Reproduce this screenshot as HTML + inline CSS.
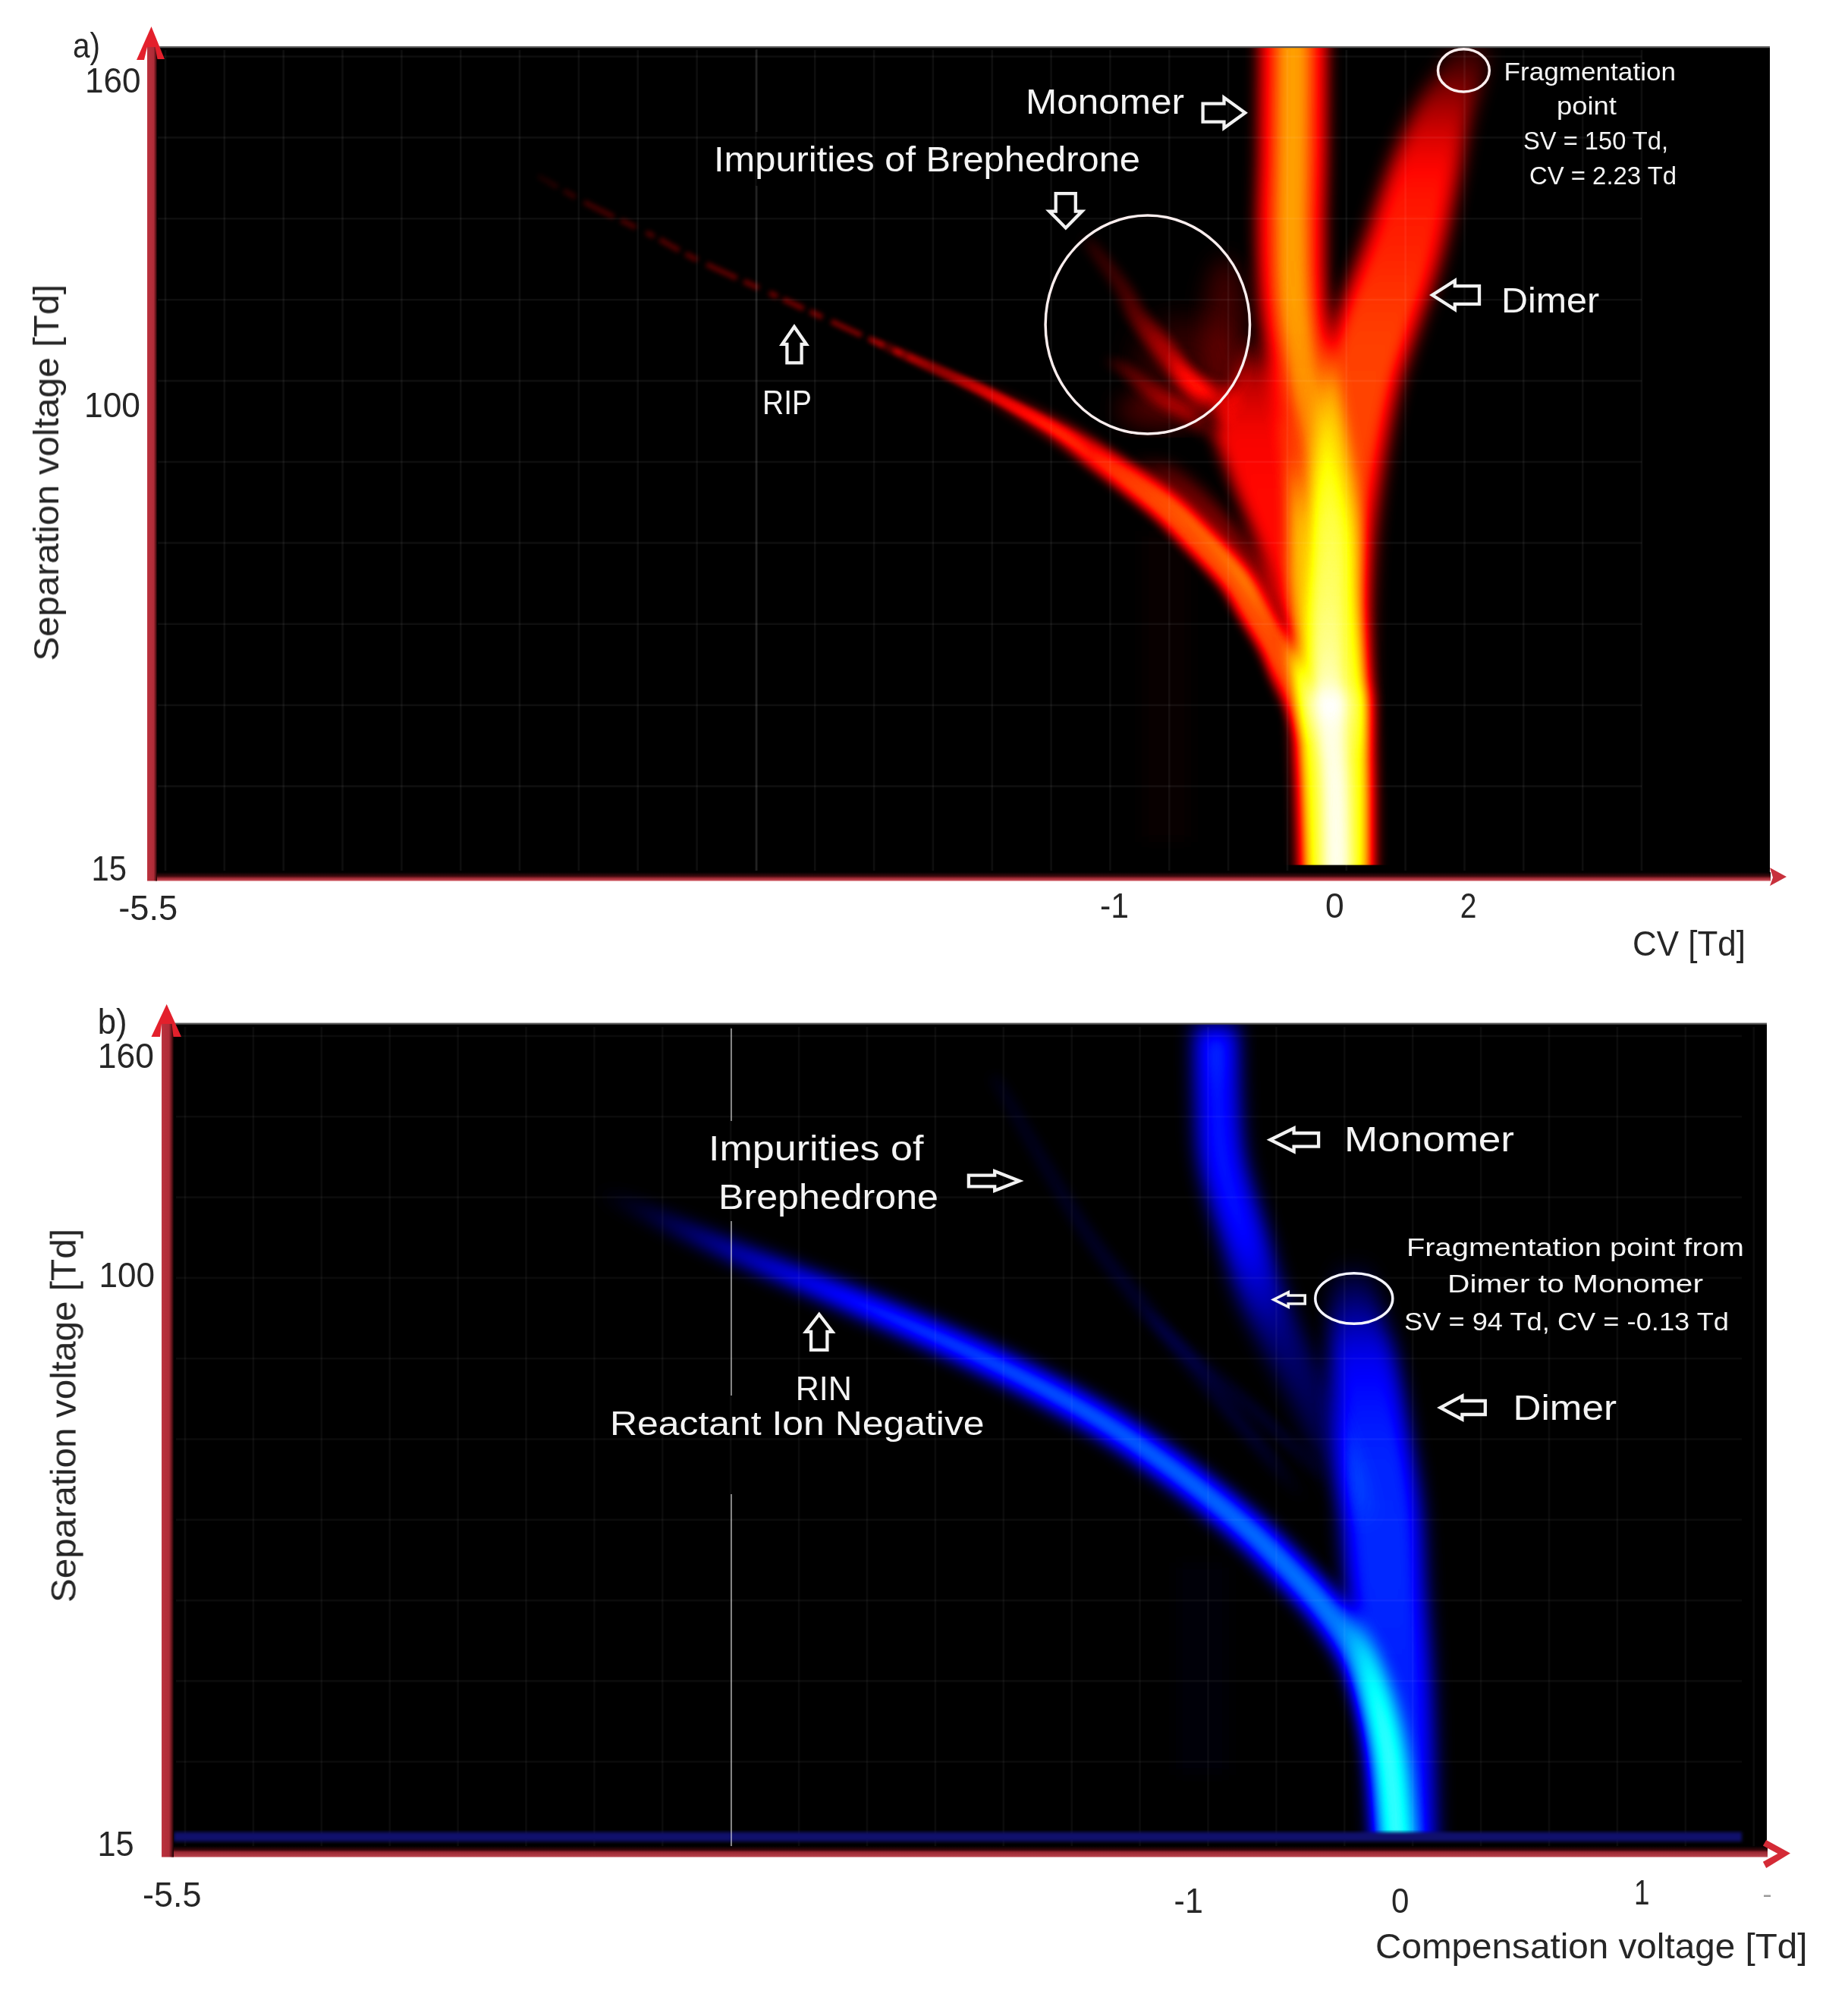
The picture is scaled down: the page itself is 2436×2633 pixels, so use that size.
<!DOCTYPE html>
<html><head><meta charset="utf-8"><title>DMS dispersion plots</title><style>html,body{margin:0;padding:0;background:#fff}svg{display:block}</style></head><body>
<svg width="2436" height="2633" viewBox="0 0 2436 2633" font-family="Liberation Sans, sans-serif">
<defs>
<linearGradient id="lg1" gradientUnits="userSpaceOnUse" x1="0" y1="50.0" x2="0" y2="1000.0"><stop offset="0.0000" stop-color="#fff" stop-opacity="0.030"/><stop offset="0.0083" stop-color="#fff" stop-opacity="0.047"/><stop offset="0.0201" stop-color="#fff" stop-opacity="0.072"/><stop offset="0.0337" stop-color="#fff" stop-opacity="0.101"/><stop offset="0.0474" stop-color="#fff" stop-opacity="0.130"/><stop offset="0.0605" stop-color="#fff" stop-opacity="0.161"/><stop offset="0.0741" stop-color="#fff" stop-opacity="0.194"/><stop offset="0.0888" stop-color="#fff" stop-opacity="0.227"/><stop offset="0.1053" stop-color="#fff" stop-opacity="0.260"/><stop offset="0.1237" stop-color="#fff" stop-opacity="0.293"/><stop offset="0.1438" stop-color="#fff" stop-opacity="0.326"/><stop offset="0.1654" stop-color="#fff" stop-opacity="0.356"/><stop offset="0.1884" stop-color="#fff" stop-opacity="0.380"/><stop offset="0.2134" stop-color="#fff" stop-opacity="0.396"/><stop offset="0.2402" stop-color="#fff" stop-opacity="0.405"/><stop offset="0.2677" stop-color="#fff" stop-opacity="0.412"/><stop offset="0.2947" stop-color="#fff" stop-opacity="0.420"/><stop offset="0.3219" stop-color="#fff" stop-opacity="0.431"/><stop offset="0.3494" stop-color="#fff" stop-opacity="0.442"/><stop offset="0.3759" stop-color="#fff" stop-opacity="0.452"/><stop offset="0.4000" stop-color="#fff" stop-opacity="0.460"/><stop offset="0.4199" stop-color="#fff" stop-opacity="0.465"/><stop offset="0.4368" stop-color="#fff" stop-opacity="0.467"/><stop offset="0.4538" stop-color="#fff" stop-opacity="0.469"/><stop offset="0.4737" stop-color="#fff" stop-opacity="0.470"/><stop offset="0.4978" stop-color="#fff" stop-opacity="0.471"/><stop offset="0.5243" stop-color="#fff" stop-opacity="0.472"/><stop offset="0.5519" stop-color="#fff" stop-opacity="0.472"/><stop offset="0.5789" stop-color="#fff" stop-opacity="0.470"/><stop offset="0.6053" stop-color="#fff" stop-opacity="0.468"/><stop offset="0.6316" stop-color="#fff" stop-opacity="0.464"/><stop offset="0.6579" stop-color="#fff" stop-opacity="0.459"/><stop offset="0.6842" stop-color="#fff" stop-opacity="0.450"/><stop offset="0.7098" stop-color="#fff" stop-opacity="0.437"/><stop offset="0.7349" stop-color="#fff" stop-opacity="0.422"/><stop offset="0.7609" stop-color="#fff" stop-opacity="0.403"/><stop offset="0.7895" stop-color="#fff" stop-opacity="0.380"/><stop offset="0.8229" stop-color="#fff" stop-opacity="0.355"/><stop offset="0.8599" stop-color="#fff" stop-opacity="0.326"/><stop offset="0.8958" stop-color="#fff" stop-opacity="0.292"/><stop offset="0.9263" stop-color="#fff" stop-opacity="0.250"/><stop offset="0.9509" stop-color="#fff" stop-opacity="0.190"/><stop offset="0.9717" stop-color="#fff" stop-opacity="0.117"/><stop offset="0.9882" stop-color="#fff" stop-opacity="0.048"/><stop offset="1.0000" stop-color="#fff" stop-opacity="0.000"/><stop offset="1.0000" stop-color="#fff" stop-opacity="0.000"/></linearGradient>
<linearGradient id="lg2" gradientUnits="userSpaceOnUse" x1="0" y1="40.0" x2="0" y2="1160.0"><stop offset="0.0000" stop-color="#fff" stop-opacity="0.430"/><stop offset="0.0269" stop-color="#fff" stop-opacity="0.430"/><stop offset="0.0658" stop-color="#fff" stop-opacity="0.430"/><stop offset="0.1076" stop-color="#fff" stop-opacity="0.430"/><stop offset="0.1429" stop-color="#fff" stop-opacity="0.430"/><stop offset="0.1689" stop-color="#fff" stop-opacity="0.430"/><stop offset="0.1908" stop-color="#fff" stop-opacity="0.430"/><stop offset="0.2111" stop-color="#fff" stop-opacity="0.430"/><stop offset="0.2321" stop-color="#fff" stop-opacity="0.430"/><stop offset="0.2545" stop-color="#fff" stop-opacity="0.430"/><stop offset="0.2768" stop-color="#fff" stop-opacity="0.430"/><stop offset="0.2991" stop-color="#fff" stop-opacity="0.430"/><stop offset="0.3214" stop-color="#fff" stop-opacity="0.430"/><stop offset="0.3438" stop-color="#fff" stop-opacity="0.430"/><stop offset="0.3661" stop-color="#fff" stop-opacity="0.429"/><stop offset="0.3884" stop-color="#fff" stop-opacity="0.429"/><stop offset="0.4107" stop-color="#fff" stop-opacity="0.430"/><stop offset="0.4330" stop-color="#fff" stop-opacity="0.430"/><stop offset="0.4554" stop-color="#fff" stop-opacity="0.430"/><stop offset="0.4777" stop-color="#fff" stop-opacity="0.432"/><stop offset="0.5000" stop-color="#fff" stop-opacity="0.440"/><stop offset="0.5223" stop-color="#fff" stop-opacity="0.455"/><stop offset="0.5446" stop-color="#fff" stop-opacity="0.474"/><stop offset="0.5670" stop-color="#fff" stop-opacity="0.497"/><stop offset="0.5893" stop-color="#fff" stop-opacity="0.520"/><stop offset="0.6116" stop-color="#fff" stop-opacity="0.544"/><stop offset="0.6339" stop-color="#fff" stop-opacity="0.569"/><stop offset="0.6562" stop-color="#fff" stop-opacity="0.595"/><stop offset="0.6786" stop-color="#fff" stop-opacity="0.620"/><stop offset="0.7024" stop-color="#fff" stop-opacity="0.646"/><stop offset="0.7271" stop-color="#fff" stop-opacity="0.672"/><stop offset="0.7499" stop-color="#fff" stop-opacity="0.698"/><stop offset="0.7679" stop-color="#fff" stop-opacity="0.720"/><stop offset="0.7773" stop-color="#fff" stop-opacity="0.739"/><stop offset="0.7807" stop-color="#fff" stop-opacity="0.756"/><stop offset="0.7844" stop-color="#fff" stop-opacity="0.770"/><stop offset="0.7946" stop-color="#fff" stop-opacity="0.780"/><stop offset="0.8140" stop-color="#fff" stop-opacity="0.784"/><stop offset="0.8387" stop-color="#fff" stop-opacity="0.784"/><stop offset="0.8660" stop-color="#fff" stop-opacity="0.781"/><stop offset="0.8929" stop-color="#fff" stop-opacity="0.780"/><stop offset="0.9215" stop-color="#fff" stop-opacity="0.780"/><stop offset="0.9526" stop-color="#fff" stop-opacity="0.780"/><stop offset="0.9805" stop-color="#fff" stop-opacity="0.780"/><stop offset="1.0000" stop-color="#fff" stop-opacity="0.780"/><stop offset="1.0000" stop-color="#fff" stop-opacity="0.780"/></linearGradient>
<linearGradient id="lg3" gradientUnits="userSpaceOnUse" x1="0" y1="40.0" x2="0" y2="1160.0"><stop offset="0.0000" stop-color="#fff" stop-opacity="0.310"/><stop offset="0.0269" stop-color="#fff" stop-opacity="0.310"/><stop offset="0.0658" stop-color="#fff" stop-opacity="0.310"/><stop offset="0.1076" stop-color="#fff" stop-opacity="0.310"/><stop offset="0.1429" stop-color="#fff" stop-opacity="0.310"/><stop offset="0.1689" stop-color="#fff" stop-opacity="0.310"/><stop offset="0.1908" stop-color="#fff" stop-opacity="0.310"/><stop offset="0.2111" stop-color="#fff" stop-opacity="0.310"/><stop offset="0.2321" stop-color="#fff" stop-opacity="0.310"/><stop offset="0.2545" stop-color="#fff" stop-opacity="0.311"/><stop offset="0.2768" stop-color="#fff" stop-opacity="0.312"/><stop offset="0.2991" stop-color="#fff" stop-opacity="0.312"/><stop offset="0.3214" stop-color="#fff" stop-opacity="0.310"/><stop offset="0.3438" stop-color="#fff" stop-opacity="0.305"/><stop offset="0.3661" stop-color="#fff" stop-opacity="0.297"/><stop offset="0.3884" stop-color="#fff" stop-opacity="0.289"/><stop offset="0.4107" stop-color="#fff" stop-opacity="0.280"/><stop offset="0.4330" stop-color="#fff" stop-opacity="0.267"/><stop offset="0.4554" stop-color="#fff" stop-opacity="0.252"/><stop offset="0.4777" stop-color="#fff" stop-opacity="0.240"/><stop offset="0.5000" stop-color="#fff" stop-opacity="0.240"/><stop offset="0.5223" stop-color="#fff" stop-opacity="0.256"/><stop offset="0.5446" stop-color="#fff" stop-opacity="0.283"/><stop offset="0.5670" stop-color="#fff" stop-opacity="0.313"/><stop offset="0.5893" stop-color="#fff" stop-opacity="0.340"/><stop offset="0.6118" stop-color="#fff" stop-opacity="0.359"/><stop offset="0.6345" stop-color="#fff" stop-opacity="0.374"/><stop offset="0.6569" stop-color="#fff" stop-opacity="0.392"/><stop offset="0.6786" stop-color="#fff" stop-opacity="0.420"/><stop offset="0.7004" stop-color="#fff" stop-opacity="0.458"/><stop offset="0.7223" stop-color="#fff" stop-opacity="0.502"/><stop offset="0.7424" stop-color="#fff" stop-opacity="0.555"/><stop offset="0.7589" stop-color="#fff" stop-opacity="0.620"/><stop offset="0.7703" stop-color="#fff" stop-opacity="0.712"/><stop offset="0.7778" stop-color="#fff" stop-opacity="0.826"/><stop offset="0.7839" stop-color="#fff" stop-opacity="0.929"/><stop offset="0.7911" stop-color="#fff" stop-opacity="0.990"/><stop offset="0.7990" stop-color="#fff" stop-opacity="0.989"/><stop offset="0.8068" stop-color="#fff" stop-opacity="0.946"/><stop offset="0.8156" stop-color="#fff" stop-opacity="0.892"/><stop offset="0.8268" stop-color="#fff" stop-opacity="0.860"/><stop offset="0.8402" stop-color="#fff" stop-opacity="0.859"/><stop offset="0.8554" stop-color="#fff" stop-opacity="0.871"/><stop offset="0.8727" stop-color="#fff" stop-opacity="0.887"/><stop offset="0.8929" stop-color="#fff" stop-opacity="0.900"/><stop offset="0.9193" stop-color="#fff" stop-opacity="0.907"/><stop offset="0.9506" stop-color="#fff" stop-opacity="0.912"/><stop offset="0.9798" stop-color="#fff" stop-opacity="0.917"/><stop offset="1.0000" stop-color="#fff" stop-opacity="0.920"/><stop offset="1.0000" stop-color="#fff" stop-opacity="0.920"/></linearGradient>
<linearGradient id="ripg" gradientUnits="userSpaceOnUse" x1="709" y1="0" x2="1230" y2="0"><stop offset="0" stop-color="#fff" stop-opacity="0.03"/><stop offset="0.13" stop-color="#fff" stop-opacity="0.10"/><stop offset="0.4" stop-color="#fff" stop-opacity="0.13"/><stop offset="0.7" stop-color="#fff" stop-opacity="0.18"/><stop offset="0.88" stop-color="#fff" stop-opacity="0.2"/><stop offset="1" stop-color="#fff" stop-opacity="0"/></linearGradient>
<linearGradient id="lg4" gradientUnits="userSpaceOnUse" x1="1140.0" y1="0" x2="1440.0" y2="0"><stop offset="0.0000" stop-color="#fff" stop-opacity="0.000"/><stop offset="0.0292" stop-color="#fff" stop-opacity="0.033"/><stop offset="0.0708" stop-color="#fff" stop-opacity="0.082"/><stop offset="0.1187" stop-color="#fff" stop-opacity="0.132"/><stop offset="0.1667" stop-color="#fff" stop-opacity="0.170"/><stop offset="0.2146" stop-color="#fff" stop-opacity="0.191"/><stop offset="0.2654" stop-color="#fff" stop-opacity="0.203"/><stop offset="0.3168" stop-color="#fff" stop-opacity="0.210"/><stop offset="0.3667" stop-color="#fff" stop-opacity="0.220"/><stop offset="0.4118" stop-color="#fff" stop-opacity="0.236"/><stop offset="0.4544" stop-color="#fff" stop-opacity="0.254"/><stop offset="0.4997" stop-color="#fff" stop-opacity="0.267"/><stop offset="0.5533" stop-color="#fff" stop-opacity="0.270"/><stop offset="0.6217" stop-color="#fff" stop-opacity="0.259"/><stop offset="0.7002" stop-color="#fff" stop-opacity="0.239"/><stop offset="0.7778" stop-color="#fff" stop-opacity="0.212"/><stop offset="0.8433" stop-color="#fff" stop-opacity="0.180"/><stop offset="0.8955" stop-color="#fff" stop-opacity="0.137"/><stop offset="0.9398" stop-color="#fff" stop-opacity="0.084"/><stop offset="0.9750" stop-color="#fff" stop-opacity="0.034"/><stop offset="1.0000" stop-color="#fff" stop-opacity="0.000"/><stop offset="1.0000" stop-color="#fff" stop-opacity="0.000"/></linearGradient>
<linearGradient id="lg5" gradientUnits="userSpaceOnUse" x1="0" y1="494.0" x2="0" y2="981.0"><stop offset="0.0000" stop-color="#fff" stop-opacity="0.000"/><stop offset="0.0086" stop-color="#fff" stop-opacity="0.016"/><stop offset="0.0207" stop-color="#fff" stop-opacity="0.038"/><stop offset="0.0358" stop-color="#fff" stop-opacity="0.066"/><stop offset="0.0534" stop-color="#fff" stop-opacity="0.100"/><stop offset="0.0749" stop-color="#fff" stop-opacity="0.145"/><stop offset="0.1001" stop-color="#fff" stop-opacity="0.199"/><stop offset="0.1261" stop-color="#fff" stop-opacity="0.253"/><stop offset="0.1499" stop-color="#fff" stop-opacity="0.300"/><stop offset="0.1710" stop-color="#fff" stop-opacity="0.337"/><stop offset="0.1910" stop-color="#fff" stop-opacity="0.370"/><stop offset="0.2099" stop-color="#fff" stop-opacity="0.397"/><stop offset="0.2279" stop-color="#fff" stop-opacity="0.420"/><stop offset="0.2447" stop-color="#fff" stop-opacity="0.436"/><stop offset="0.2603" stop-color="#fff" stop-opacity="0.446"/><stop offset="0.2756" stop-color="#fff" stop-opacity="0.453"/><stop offset="0.2916" stop-color="#fff" stop-opacity="0.460"/><stop offset="0.3081" stop-color="#fff" stop-opacity="0.467"/><stop offset="0.3248" stop-color="#fff" stop-opacity="0.472"/><stop offset="0.3424" stop-color="#fff" stop-opacity="0.477"/><stop offset="0.3614" stop-color="#fff" stop-opacity="0.480"/><stop offset="0.3823" stop-color="#fff" stop-opacity="0.481"/><stop offset="0.4048" stop-color="#fff" stop-opacity="0.481"/><stop offset="0.4281" stop-color="#fff" stop-opacity="0.480"/><stop offset="0.4517" stop-color="#fff" stop-opacity="0.480"/><stop offset="0.4760" stop-color="#fff" stop-opacity="0.480"/><stop offset="0.5010" stop-color="#fff" stop-opacity="0.480"/><stop offset="0.5261" stop-color="#fff" stop-opacity="0.480"/><stop offset="0.5503" stop-color="#fff" stop-opacity="0.480"/><stop offset="0.5735" stop-color="#fff" stop-opacity="0.480"/><stop offset="0.5961" stop-color="#fff" stop-opacity="0.480"/><stop offset="0.6184" stop-color="#fff" stop-opacity="0.480"/><stop offset="0.6407" stop-color="#fff" stop-opacity="0.480"/><stop offset="0.6631" stop-color="#fff" stop-opacity="0.480"/><stop offset="0.6854" stop-color="#fff" stop-opacity="0.481"/><stop offset="0.7075" stop-color="#fff" stop-opacity="0.481"/><stop offset="0.7290" stop-color="#fff" stop-opacity="0.480"/><stop offset="0.7493" stop-color="#fff" stop-opacity="0.480"/><stop offset="0.7689" stop-color="#fff" stop-opacity="0.480"/><stop offset="0.7885" stop-color="#fff" stop-opacity="0.475"/><stop offset="0.8090" stop-color="#fff" stop-opacity="0.460"/><stop offset="0.8307" stop-color="#fff" stop-opacity="0.433"/><stop offset="0.8529" stop-color="#fff" stop-opacity="0.397"/><stop offset="0.8758" stop-color="#fff" stop-opacity="0.353"/><stop offset="0.8994" stop-color="#fff" stop-opacity="0.300"/><stop offset="0.9262" stop-color="#fff" stop-opacity="0.228"/><stop offset="0.9553" stop-color="#fff" stop-opacity="0.140"/><stop offset="0.9817" stop-color="#fff" stop-opacity="0.057"/><stop offset="1.0000" stop-color="#fff" stop-opacity="0.000"/><stop offset="1.0000" stop-color="#fff" stop-opacity="0.000"/></linearGradient>
<linearGradient id="lg6" gradientUnits="userSpaceOnUse" x1="0" y1="606.0" x2="0" y2="834.0"><stop offset="0.0000" stop-color="#fff" stop-opacity="0.000"/><stop offset="0.0085" stop-color="#fff" stop-opacity="0.023"/><stop offset="0.0200" stop-color="#fff" stop-opacity="0.057"/><stop offset="0.0379" stop-color="#fff" stop-opacity="0.092"/><stop offset="0.0658" stop-color="#fff" stop-opacity="0.120"/><stop offset="0.1061" stop-color="#fff" stop-opacity="0.138"/><stop offset="0.1565" stop-color="#fff" stop-opacity="0.151"/><stop offset="0.2131" stop-color="#fff" stop-opacity="0.161"/><stop offset="0.2719" stop-color="#fff" stop-opacity="0.170"/><stop offset="0.3337" stop-color="#fff" stop-opacity="0.179"/><stop offset="0.3999" stop-color="#fff" stop-opacity="0.187"/><stop offset="0.4680" stop-color="#fff" stop-opacity="0.194"/><stop offset="0.5351" stop-color="#fff" stop-opacity="0.200"/><stop offset="0.6023" stop-color="#fff" stop-opacity="0.211"/><stop offset="0.6705" stop-color="#fff" stop-opacity="0.226"/><stop offset="0.7368" stop-color="#fff" stop-opacity="0.232"/><stop offset="0.7982" stop-color="#fff" stop-opacity="0.220"/><stop offset="0.8577" stop-color="#fff" stop-opacity="0.177"/><stop offset="0.9156" stop-color="#fff" stop-opacity="0.111"/><stop offset="0.9652" stop-color="#fff" stop-opacity="0.045"/><stop offset="1.0000" stop-color="#fff" stop-opacity="0.000"/><stop offset="1.0000" stop-color="#fff" stop-opacity="0.000"/></linearGradient>
<linearGradient id="lg7" gradientUnits="userSpaceOnUse" x1="0" y1="440.0" x2="0" y2="850.0"><stop offset="0.0000" stop-color="#fff" stop-opacity="0.000"/><stop offset="0.0131" stop-color="#fff" stop-opacity="0.021"/><stop offset="0.0320" stop-color="#fff" stop-opacity="0.051"/><stop offset="0.0532" stop-color="#fff" stop-opacity="0.086"/><stop offset="0.0732" stop-color="#fff" stop-opacity="0.120"/><stop offset="0.0897" stop-color="#fff" stop-opacity="0.155"/><stop offset="0.1052" stop-color="#fff" stop-opacity="0.192"/><stop offset="0.1229" stop-color="#fff" stop-opacity="0.228"/><stop offset="0.1463" stop-color="#fff" stop-opacity="0.260"/><stop offset="0.1787" stop-color="#fff" stop-opacity="0.288"/><stop offset="0.2174" stop-color="#fff" stop-opacity="0.312"/><stop offset="0.2571" stop-color="#fff" stop-opacity="0.334"/><stop offset="0.2927" stop-color="#fff" stop-opacity="0.350"/><stop offset="0.3197" stop-color="#fff" stop-opacity="0.360"/><stop offset="0.3421" stop-color="#fff" stop-opacity="0.365"/><stop offset="0.3665" stop-color="#fff" stop-opacity="0.367"/><stop offset="0.4000" stop-color="#fff" stop-opacity="0.370"/><stop offset="0.4461" stop-color="#fff" stop-opacity="0.374"/><stop offset="0.5006" stop-color="#fff" stop-opacity="0.379"/><stop offset="0.5585" stop-color="#fff" stop-opacity="0.381"/><stop offset="0.6146" stop-color="#fff" stop-opacity="0.380"/><stop offset="0.6693" stop-color="#fff" stop-opacity="0.381"/><stop offset="0.7247" stop-color="#fff" stop-opacity="0.382"/><stop offset="0.7787" stop-color="#fff" stop-opacity="0.372"/><stop offset="0.8293" stop-color="#fff" stop-opacity="0.340"/><stop offset="0.8790" stop-color="#fff" stop-opacity="0.268"/><stop offset="0.9280" stop-color="#fff" stop-opacity="0.168"/><stop offset="0.9704" stop-color="#fff" stop-opacity="0.068"/><stop offset="1.0000" stop-color="#fff" stop-opacity="0.000"/><stop offset="1.0000" stop-color="#fff" stop-opacity="0.000"/></linearGradient>
<linearGradient id="lg8" gradientUnits="userSpaceOnUse" x1="0" y1="310.0" x2="0" y2="560.0"><stop offset="0.0000" stop-color="#fff" stop-opacity="0.000"/><stop offset="0.0106" stop-color="#fff" stop-opacity="0.014"/><stop offset="0.0250" stop-color="#fff" stop-opacity="0.033"/><stop offset="0.0459" stop-color="#fff" stop-opacity="0.054"/><stop offset="0.0760" stop-color="#fff" stop-opacity="0.070"/><stop offset="0.1203" stop-color="#fff" stop-opacity="0.080"/><stop offset="0.1760" stop-color="#fff" stop-opacity="0.087"/><stop offset="0.2337" stop-color="#fff" stop-opacity="0.093"/><stop offset="0.2840" stop-color="#fff" stop-opacity="0.100"/><stop offset="0.3230" stop-color="#fff" stop-opacity="0.109"/><stop offset="0.3563" stop-color="#fff" stop-opacity="0.118"/><stop offset="0.3883" stop-color="#fff" stop-opacity="0.128"/><stop offset="0.4240" stop-color="#fff" stop-opacity="0.140"/><stop offset="0.4655" stop-color="#fff" stop-opacity="0.155"/><stop offset="0.5100" stop-color="#fff" stop-opacity="0.172"/><stop offset="0.5545" stop-color="#fff" stop-opacity="0.188"/><stop offset="0.5960" stop-color="#fff" stop-opacity="0.200"/><stop offset="0.6333" stop-color="#fff" stop-opacity="0.206"/><stop offset="0.6683" stop-color="#fff" stop-opacity="0.209"/><stop offset="0.7020" stop-color="#fff" stop-opacity="0.210"/><stop offset="0.7360" stop-color="#fff" stop-opacity="0.210"/><stop offset="0.7705" stop-color="#fff" stop-opacity="0.213"/><stop offset="0.8047" stop-color="#fff" stop-opacity="0.218"/><stop offset="0.8387" stop-color="#fff" stop-opacity="0.216"/><stop offset="0.8720" stop-color="#fff" stop-opacity="0.200"/><stop offset="0.9076" stop-color="#fff" stop-opacity="0.159"/><stop offset="0.9445" stop-color="#fff" stop-opacity="0.099"/><stop offset="0.9772" stop-color="#fff" stop-opacity="0.040"/><stop offset="1.0000" stop-color="#fff" stop-opacity="0.000"/><stop offset="1.0000" stop-color="#fff" stop-opacity="0.000"/></linearGradient>
<linearGradient id="lg9" gradientUnits="userSpaceOnUse" x1="0" y1="470.0" x2="0" y2="590.0"><stop offset="0.0000" stop-color="#fff" stop-opacity="0.000"/><stop offset="0.0186" stop-color="#fff" stop-opacity="0.022"/><stop offset="0.0443" stop-color="#fff" stop-opacity="0.053"/><stop offset="0.0791" stop-color="#fff" stop-opacity="0.086"/><stop offset="0.1250" stop-color="#fff" stop-opacity="0.110"/><stop offset="0.1876" stop-color="#fff" stop-opacity="0.124"/><stop offset="0.2641" stop-color="#fff" stop-opacity="0.132"/><stop offset="0.3439" stop-color="#fff" stop-opacity="0.136"/><stop offset="0.4167" stop-color="#fff" stop-opacity="0.140"/><stop offset="0.4764" stop-color="#fff" stop-opacity="0.145"/><stop offset="0.5297" stop-color="#fff" stop-opacity="0.151"/><stop offset="0.5848" stop-color="#fff" stop-opacity="0.151"/><stop offset="0.6500" stop-color="#fff" stop-opacity="0.140"/><stop offset="0.7375" stop-color="#fff" stop-opacity="0.112"/><stop offset="0.8396" stop-color="#fff" stop-opacity="0.070"/><stop offset="0.9344" stop-color="#fff" stop-opacity="0.028"/><stop offset="1.0000" stop-color="#fff" stop-opacity="0.000"/><stop offset="1.0000" stop-color="#fff" stop-opacity="0.000"/></linearGradient>
<linearGradient id="lg10" gradientUnits="userSpaceOnUse" x1="1540.0" y1="0" x2="1640.0" y2="0"><stop offset="0.0000" stop-color="#fff" stop-opacity="0.000"/><stop offset="0.0269" stop-color="#fff" stop-opacity="0.027"/><stop offset="0.0650" stop-color="#fff" stop-opacity="0.066"/><stop offset="0.1106" stop-color="#fff" stop-opacity="0.107"/><stop offset="0.1600" stop-color="#fff" stop-opacity="0.140"/><stop offset="0.2130" stop-color="#fff" stop-opacity="0.163"/><stop offset="0.2712" stop-color="#fff" stop-opacity="0.181"/><stop offset="0.3339" stop-color="#fff" stop-opacity="0.194"/><stop offset="0.4000" stop-color="#fff" stop-opacity="0.200"/><stop offset="0.4708" stop-color="#fff" stop-opacity="0.200"/><stop offset="0.5463" stop-color="#fff" stop-opacity="0.194"/><stop offset="0.6236" stop-color="#fff" stop-opacity="0.181"/><stop offset="0.7000" stop-color="#fff" stop-opacity="0.160"/><stop offset="0.7820" stop-color="#fff" stop-opacity="0.125"/><stop offset="0.8688" stop-color="#fff" stop-opacity="0.077"/><stop offset="0.9461" stop-color="#fff" stop-opacity="0.032"/><stop offset="1.0000" stop-color="#fff" stop-opacity="0.000"/><stop offset="1.0000" stop-color="#fff" stop-opacity="0.000"/></linearGradient>
<linearGradient id="lg11" gradientUnits="userSpaceOnUse" x1="0" y1="1346.0" x2="0" y2="2020.0"><stop offset="0.0000" stop-color="#fff" stop-opacity="0.000"/><stop offset="0.0024" stop-color="#fff" stop-opacity="0.081"/><stop offset="0.0054" stop-color="#fff" stop-opacity="0.200"/><stop offset="0.0123" stop-color="#fff" stop-opacity="0.319"/><stop offset="0.0267" stop-color="#fff" stop-opacity="0.400"/><stop offset="0.0515" stop-color="#fff" stop-opacity="0.428"/><stop offset="0.0843" stop-color="#fff" stop-opacity="0.425"/><stop offset="0.1201" stop-color="#fff" stop-opacity="0.409"/><stop offset="0.1543" stop-color="#fff" stop-opacity="0.400"/><stop offset="0.1855" stop-color="#fff" stop-opacity="0.400"/><stop offset="0.2163" stop-color="#fff" stop-opacity="0.401"/><stop offset="0.2477" stop-color="#fff" stop-opacity="0.401"/><stop offset="0.2804" stop-color="#fff" stop-opacity="0.400"/><stop offset="0.3162" stop-color="#fff" stop-opacity="0.398"/><stop offset="0.3540" stop-color="#fff" stop-opacity="0.396"/><stop offset="0.3910" stop-color="#fff" stop-opacity="0.391"/><stop offset="0.4243" stop-color="#fff" stop-opacity="0.380"/><stop offset="0.4529" stop-color="#fff" stop-opacity="0.361"/><stop offset="0.4782" stop-color="#fff" stop-opacity="0.335"/><stop offset="0.5018" stop-color="#fff" stop-opacity="0.307"/><stop offset="0.5252" stop-color="#fff" stop-opacity="0.280"/><stop offset="0.5473" stop-color="#fff" stop-opacity="0.254"/><stop offset="0.5677" stop-color="#fff" stop-opacity="0.228"/><stop offset="0.5891" stop-color="#fff" stop-opacity="0.202"/><stop offset="0.6142" stop-color="#fff" stop-opacity="0.180"/><stop offset="0.6441" stop-color="#fff" stop-opacity="0.161"/><stop offset="0.6773" stop-color="#fff" stop-opacity="0.145"/><stop offset="0.7123" stop-color="#fff" stop-opacity="0.131"/><stop offset="0.7478" stop-color="#fff" stop-opacity="0.120"/><stop offset="0.7849" stop-color="#fff" stop-opacity="0.114"/><stop offset="0.8238" stop-color="#fff" stop-opacity="0.113"/><stop offset="0.8618" stop-color="#fff" stop-opacity="0.110"/><stop offset="0.8961" stop-color="#fff" stop-opacity="0.100"/><stop offset="0.9277" stop-color="#fff" stop-opacity="0.078"/><stop offset="0.9573" stop-color="#fff" stop-opacity="0.049"/><stop offset="0.9824" stop-color="#fff" stop-opacity="0.020"/><stop offset="1.0000" stop-color="#fff" stop-opacity="0.000"/><stop offset="1.0000" stop-color="#fff" stop-opacity="0.000"/></linearGradient>
<linearGradient id="lg12" gradientUnits="userSpaceOnUse" x1="0" y1="1660.0" x2="0" y2="2440.0"><stop offset="0.0000" stop-color="#fff" stop-opacity="0.000"/><stop offset="0.0089" stop-color="#fff" stop-opacity="0.021"/><stop offset="0.0216" stop-color="#fff" stop-opacity="0.051"/><stop offset="0.0364" stop-color="#fff" stop-opacity="0.086"/><stop offset="0.0513" stop-color="#fff" stop-opacity="0.120"/><stop offset="0.0664" stop-color="#fff" stop-opacity="0.155"/><stop offset="0.0825" stop-color="#fff" stop-opacity="0.191"/><stop offset="0.0991" stop-color="#fff" stop-opacity="0.227"/><stop offset="0.1154" stop-color="#fff" stop-opacity="0.260"/><stop offset="0.1299" stop-color="#fff" stop-opacity="0.289"/><stop offset="0.1434" stop-color="#fff" stop-opacity="0.315"/><stop offset="0.1590" stop-color="#fff" stop-opacity="0.339"/><stop offset="0.1795" stop-color="#fff" stop-opacity="0.360"/><stop offset="0.2073" stop-color="#fff" stop-opacity="0.379"/><stop offset="0.2402" stop-color="#fff" stop-opacity="0.396"/><stop offset="0.2749" stop-color="#fff" stop-opacity="0.409"/><stop offset="0.3077" stop-color="#fff" stop-opacity="0.420"/><stop offset="0.3374" stop-color="#fff" stop-opacity="0.426"/><stop offset="0.3660" stop-color="#fff" stop-opacity="0.429"/><stop offset="0.3950" stop-color="#fff" stop-opacity="0.429"/><stop offset="0.4256" stop-color="#fff" stop-opacity="0.430"/><stop offset="0.4591" stop-color="#fff" stop-opacity="0.431"/><stop offset="0.4942" stop-color="#fff" stop-opacity="0.431"/><stop offset="0.5297" stop-color="#fff" stop-opacity="0.431"/><stop offset="0.5641" stop-color="#fff" stop-opacity="0.430"/><stop offset="0.5969" stop-color="#fff" stop-opacity="0.428"/><stop offset="0.6288" stop-color="#fff" stop-opacity="0.425"/><stop offset="0.6605" stop-color="#fff" stop-opacity="0.422"/><stop offset="0.6923" stop-color="#fff" stop-opacity="0.420"/><stop offset="0.7232" stop-color="#fff" stop-opacity="0.419"/><stop offset="0.7532" stop-color="#fff" stop-opacity="0.419"/><stop offset="0.7849" stop-color="#fff" stop-opacity="0.420"/><stop offset="0.8205" stop-color="#fff" stop-opacity="0.420"/><stop offset="0.8660" stop-color="#fff" stop-opacity="0.420"/><stop offset="0.9183" stop-color="#fff" stop-opacity="0.420"/><stop offset="0.9665" stop-color="#fff" stop-opacity="0.420"/><stop offset="1.0000" stop-color="#fff" stop-opacity="0.420"/><stop offset="1.0000" stop-color="#fff" stop-opacity="0.420"/></linearGradient>
<linearGradient id="lg13" gradientUnits="userSpaceOnUse" x1="0" y1="1570.0" x2="0" y2="2440.0"><stop offset="0.0000" stop-color="#fff" stop-opacity="0.000"/><stop offset="0.0023" stop-color="#fff" stop-opacity="0.009"/><stop offset="0.0053" stop-color="#fff" stop-opacity="0.022"/><stop offset="0.0106" stop-color="#fff" stop-opacity="0.041"/><stop offset="0.0195" stop-color="#fff" stop-opacity="0.070"/><stop offset="0.0335" stop-color="#fff" stop-opacity="0.114"/><stop offset="0.0512" stop-color="#fff" stop-opacity="0.169"/><stop offset="0.0710" stop-color="#fff" stop-opacity="0.227"/><stop offset="0.0908" stop-color="#fff" stop-opacity="0.280"/><stop offset="0.1105" stop-color="#fff" stop-opacity="0.328"/><stop offset="0.1310" stop-color="#fff" stop-opacity="0.375"/><stop offset="0.1521" stop-color="#fff" stop-opacity="0.417"/><stop offset="0.1736" stop-color="#fff" stop-opacity="0.450"/><stop offset="0.1957" stop-color="#fff" stop-opacity="0.472"/><stop offset="0.2186" stop-color="#fff" stop-opacity="0.484"/><stop offset="0.2414" stop-color="#fff" stop-opacity="0.492"/><stop offset="0.2632" stop-color="#fff" stop-opacity="0.500"/><stop offset="0.2837" stop-color="#fff" stop-opacity="0.507"/><stop offset="0.3033" stop-color="#fff" stop-opacity="0.512"/><stop offset="0.3227" stop-color="#fff" stop-opacity="0.516"/><stop offset="0.3425" stop-color="#fff" stop-opacity="0.520"/><stop offset="0.3630" stop-color="#fff" stop-opacity="0.523"/><stop offset="0.3837" stop-color="#fff" stop-opacity="0.526"/><stop offset="0.4045" stop-color="#fff" stop-opacity="0.528"/><stop offset="0.4253" stop-color="#fff" stop-opacity="0.530"/><stop offset="0.4464" stop-color="#fff" stop-opacity="0.532"/><stop offset="0.4677" stop-color="#fff" stop-opacity="0.535"/><stop offset="0.4885" stop-color="#fff" stop-opacity="0.537"/><stop offset="0.5080" stop-color="#fff" stop-opacity="0.540"/><stop offset="0.5259" stop-color="#fff" stop-opacity="0.542"/><stop offset="0.5426" stop-color="#fff" stop-opacity="0.545"/><stop offset="0.5587" stop-color="#fff" stop-opacity="0.548"/><stop offset="0.5747" stop-color="#fff" stop-opacity="0.550"/><stop offset="0.5906" stop-color="#fff" stop-opacity="0.552"/><stop offset="0.6062" stop-color="#fff" stop-opacity="0.554"/><stop offset="0.6218" stop-color="#fff" stop-opacity="0.557"/><stop offset="0.6379" stop-color="#fff" stop-opacity="0.560"/><stop offset="0.6545" stop-color="#fff" stop-opacity="0.563"/><stop offset="0.6713" stop-color="#fff" stop-opacity="0.567"/><stop offset="0.6887" stop-color="#fff" stop-opacity="0.572"/><stop offset="0.7069" stop-color="#fff" stop-opacity="0.580"/><stop offset="0.7261" stop-color="#fff" stop-opacity="0.593"/><stop offset="0.7460" stop-color="#fff" stop-opacity="0.610"/><stop offset="0.7666" stop-color="#fff" stop-opacity="0.627"/><stop offset="0.7874" stop-color="#fff" stop-opacity="0.640"/><stop offset="0.8076" stop-color="#fff" stop-opacity="0.648"/><stop offset="0.8276" stop-color="#fff" stop-opacity="0.654"/><stop offset="0.8490" stop-color="#fff" stop-opacity="0.657"/><stop offset="0.8736" stop-color="#fff" stop-opacity="0.660"/><stop offset="0.9053" stop-color="#fff" stop-opacity="0.661"/><stop offset="0.9422" stop-color="#fff" stop-opacity="0.661"/><stop offset="0.9763" stop-color="#fff" stop-opacity="0.660"/><stop offset="1.0000" stop-color="#fff" stop-opacity="0.660"/><stop offset="1.0000" stop-color="#fff" stop-opacity="0.660"/></linearGradient>
<linearGradient id="lg14" gradientUnits="userSpaceOnUse" x1="0" y1="1418.0" x2="0" y2="1980.0"><stop offset="0.0000" stop-color="#fff" stop-opacity="0.000"/><stop offset="-0.0003" stop-color="#fff" stop-opacity="0.008"/><stop offset="-0.0021" stop-color="#fff" stop-opacity="0.019"/><stop offset="0.0055" stop-color="#fff" stop-opacity="0.030"/><stop offset="0.0338" stop-color="#fff" stop-opacity="0.040"/><stop offset="0.0932" stop-color="#fff" stop-opacity="0.047"/><stop offset="0.1754" stop-color="#fff" stop-opacity="0.052"/><stop offset="0.2628" stop-color="#fff" stop-opacity="0.056"/><stop offset="0.3381" stop-color="#fff" stop-opacity="0.060"/><stop offset="0.3935" stop-color="#fff" stop-opacity="0.063"/><stop offset="0.4394" stop-color="#fff" stop-opacity="0.066"/><stop offset="0.4853" stop-color="#fff" stop-opacity="0.068"/><stop offset="0.5409" stop-color="#fff" stop-opacity="0.070"/><stop offset="0.6138" stop-color="#fff" stop-opacity="0.072"/><stop offset="0.6971" stop-color="#fff" stop-opacity="0.075"/><stop offset="0.7788" stop-color="#fff" stop-opacity="0.075"/><stop offset="0.8470" stop-color="#fff" stop-opacity="0.070"/><stop offset="0.8996" stop-color="#fff" stop-opacity="0.056"/><stop offset="0.9426" stop-color="#fff" stop-opacity="0.035"/><stop offset="0.9761" stop-color="#fff" stop-opacity="0.014"/><stop offset="1.0000" stop-color="#fff" stop-opacity="0.000"/><stop offset="1.0000" stop-color="#fff" stop-opacity="0.000"/></linearGradient>
<linearGradient id="lg15" gradientUnits="userSpaceOnUse" x1="0" y1="1720.0" x2="0" y2="1960.0"><stop offset="0.0000" stop-color="#fff" stop-opacity="0.000"/><stop offset="0.0254" stop-color="#fff" stop-opacity="0.012"/><stop offset="0.0599" stop-color="#fff" stop-opacity="0.029"/><stop offset="0.1113" stop-color="#fff" stop-opacity="0.047"/><stop offset="0.1875" stop-color="#fff" stop-opacity="0.060"/><stop offset="0.3044" stop-color="#fff" stop-opacity="0.068"/><stop offset="0.4531" stop-color="#fff" stop-opacity="0.073"/><stop offset="0.6045" stop-color="#fff" stop-opacity="0.074"/><stop offset="0.7292" stop-color="#fff" stop-opacity="0.070"/><stop offset="0.8223" stop-color="#fff" stop-opacity="0.056"/><stop offset="0.8984" stop-color="#fff" stop-opacity="0.036"/><stop offset="0.9577" stop-color="#fff" stop-opacity="0.014"/><stop offset="1.0000" stop-color="#fff" stop-opacity="0.000"/><stop offset="1.0000" stop-color="#fff" stop-opacity="0.000"/></linearGradient>
<filter id="soft" x="0" y="0" width="100%" height="100%" filterUnits="userSpaceOnUse" color-interpolation-filters="sRGB"><feGaussianBlur stdDeviation="0.65"/></filter>
<filter id="b2" x="-50%" y="-20%" width="200%" height="140%" color-interpolation-filters="sRGB"><feGaussianBlur stdDeviation="2"/></filter>
<filter id="b3" x="-50%" y="-20%" width="200%" height="140%" color-interpolation-filters="sRGB"><feGaussianBlur stdDeviation="3"/></filter>
<filter id="b7" x="-50%" y="-20%" width="200%" height="140%" color-interpolation-filters="sRGB"><feGaussianBlur stdDeviation="7"/></filter>
<filter id="b8" x="-50%" y="-20%" width="200%" height="140%" color-interpolation-filters="sRGB"><feGaussianBlur stdDeviation="8"/></filter>
<filter id="b10" x="-50%" y="-20%" width="200%" height="140%" color-interpolation-filters="sRGB"><feGaussianBlur stdDeviation="10"/></filter>
<filter id="b11" x="-50%" y="-20%" width="200%" height="140%" color-interpolation-filters="sRGB"><feGaussianBlur stdDeviation="11"/></filter>
<filter id="b12" x="-50%" y="-20%" width="200%" height="140%" color-interpolation-filters="sRGB"><feGaussianBlur stdDeviation="12"/></filter>
<filter id="b13" x="-50%" y="-20%" width="200%" height="140%" color-interpolation-filters="sRGB"><feGaussianBlur stdDeviation="13"/></filter>
<filter id="b15" x="-50%" y="-20%" width="200%" height="140%" color-interpolation-filters="sRGB"><feGaussianBlur stdDeviation="15"/></filter>
<filter id="b20" x="-50%" y="-20%" width="200%" height="140%" color-interpolation-filters="sRGB"><feGaussianBlur stdDeviation="20"/></filter>
<filter id="hot" x="0" y="0" width="100%" height="100%" filterUnits="userSpaceOnUse" color-interpolation-filters="sRGB"><feComponentTransfer>
<feFuncR type="table" tableValues="0 .34 .68 1 1 1 1 1 1"/><feFuncG type="table" tableValues="0 0 0 .02 .34 .67 1 1 1"/><feFuncB type="table" tableValues="0 0 0 0 0 0 0 .5 1"/></feComponentTransfer></filter>
<filter id="cool" x="0" y="0" width="100%" height="100%" filterUnits="userSpaceOnUse" color-interpolation-filters="sRGB"><feComponentTransfer>
<feFuncB type="table" tableValues="0 .34 .68 1 1 1 1 1 1"/><feFuncG type="table" tableValues="0 0 0 0 .34 .67 1 1 1"/><feFuncR type="table" tableValues="0 0 0 0 0 0 0 .5 1"/></feComponentTransfer></filter>
<clipPath id="clipA"><rect x="207" y="62" width="2126" height="1078.5"/></clipPath>
<clipPath id="clipB"><rect x="228" y="1350" width="2101" height="1070"/></clipPath>
<linearGradient id="axv" x1="0" x2="1" y1="0" y2="0"><stop offset="0" stop-color="#c23a46"/><stop offset="0.1" stop-color="#b8303c"/><stop offset="0.66" stop-color="#ae2c38"/><stop offset="0.88" stop-color="#5a1218"/><stop offset="1" stop-color="#100"/></linearGradient>
<linearGradient id="axh" x1="0" x2="0" y1="0" y2="1"><stop offset="0" stop-color="#000"/><stop offset="0.45" stop-color="#400a0e"/><stop offset="0.7" stop-color="#a02c36"/><stop offset="1" stop-color="#d05560"/></linearGradient>
<linearGradient id="axv2" x1="0" x2="1" y1="0" y2="0"><stop offset="0" stop-color="#c23a46"/><stop offset="0.1" stop-color="#b8303c"/><stop offset="0.62" stop-color="#ae2c38"/><stop offset="0.85" stop-color="#5a1218"/><stop offset="1" stop-color="#100"/></linearGradient>
<linearGradient id="axh2" x1="0" x2="0" y1="0" y2="1"><stop offset="0" stop-color="#000"/><stop offset="0.35" stop-color="#3a080c"/><stop offset="0.55" stop-color="#982832"/><stop offset="1" stop-color="#bc4650"/></linearGradient>
</defs>
<rect x="204" y="62" width="2129" height="1091" fill="#000"/>
<g clip-path="url(#clipA)"><g filter="url(#hot)"><rect x="150" y="20" width="2250" height="1200" fill="#000"/><path d="M1922.3,42.5 L1921.3,44.7 L1920.1,47.4 L1918.7,50.4 L1917.3,53.7 L1915.7,57.3 L1914.0,61.0 L1912.1,64.9 L1910.2,68.9 L1908.3,72.9 L1906.3,76.8 L1904.2,80.6 L1902.2,84.1 L1900.2,87.4 L1898.0,90.7 L1895.6,94.2 L1893.0,97.8 L1890.2,101.7 L1887.3,105.9 L1884.3,110.3 L1881.2,115.0 L1878.0,120.0 L1874.8,125.4 L1871.5,131.1 L1868.4,137.1 L1865.4,143.1 L1862.4,149.2 L1859.5,155.4 L1856.5,161.6 L1853.6,168.1 L1850.8,174.6 L1847.9,181.3 L1845.0,188.0 L1842.2,194.9 L1839.4,201.9 L1836.6,209.0 L1833.8,216.4 L1831.0,224.2 L1828.1,232.4 L1825.4,240.6 L1822.6,249.0 L1819.9,257.4 L1817.2,265.9 L1814.6,274.4 L1811.9,282.8 L1809.3,291.1 L1806.6,299.3 L1803.9,307.3 L1801.3,315.0 L1798.6,322.8 L1795.6,330.8 L1792.6,339.0 L1789.5,347.4 L1786.3,355.9 L1783.0,364.4 L1779.8,373.0 L1776.7,381.5 L1773.6,390.0 L1770.7,398.3 L1767.9,406.5 L1765.5,414.4 L1763.3,421.4 L1761.4,427.9 L1759.7,434.0 L1758.2,440.0 L1756.7,445.8 L1755.3,451.7 L1754.0,457.6 L1752.8,463.6 L1751.6,469.8 L1750.4,476.2 L1749.2,483.1 L1748.0,490.4 L1746.7,498.2 L1745.5,506.3 L1744.3,514.7 L1743.2,523.3 L1742.1,532.1 L1741.0,541.0 L1740.0,549.9 L1739.0,558.9 L1738.0,567.9 L1737.1,576.9 L1736.2,585.7 L1735.4,594.3 L1734.6,602.9 L1733.8,611.4 L1733.0,620.0 L1732.3,628.6 L1731.7,637.2 L1731.0,645.7 L1730.4,654.3 L1729.9,662.9 L1729.4,671.5 L1728.9,680.1 L1728.5,688.7 L1728.1,697.3 L1727.8,705.9 L1727.5,714.2 L1727.3,722.5 L1727.1,730.7 L1727.0,738.8 L1726.9,747.0 L1726.8,755.3 L1726.8,763.7 L1726.8,772.3 L1726.9,781.1 L1726.9,790.2 L1727.0,799.7 L1727.1,809.9 L1727.2,820.7 L1727.4,832.0 L1727.5,843.6 L1727.7,855.4 L1727.9,867.3 L1728.2,879.0 L1728.5,890.5 L1728.8,901.5 L1729.2,911.9 L1729.6,921.6 L1730.0,930.4 L1730.5,938.6 L1731.1,946.4 L1731.8,953.8 L1732.6,960.9 L1733.4,967.5 L1734.2,973.7 L1735.0,979.4 L1735.7,984.6 L1736.4,989.4 L1737.1,993.6 L1737.6,997.3 L1738.0,1000.5 L1798.0,999.5 L1798.3,996.3 L1798.7,992.6 L1799.2,988.3 L1799.7,983.5 L1800.3,978.3 L1800.9,972.6 L1801.5,966.5 L1802.1,959.9 L1802.7,952.9 L1803.2,945.5 L1803.7,937.7 L1804.0,929.6 L1804.2,920.7 L1804.4,911.0 L1804.5,900.5 L1804.6,889.5 L1804.6,878.1 L1804.6,866.5 L1804.6,854.7 L1804.6,843.1 L1804.6,831.6 L1804.7,820.6 L1804.8,810.1 L1805.0,800.3 L1805.2,791.0 L1805.5,782.1 L1805.8,773.5 L1806.1,765.2 L1806.4,757.1 L1806.7,749.2 L1807.1,741.5 L1807.6,733.8 L1808.1,726.1 L1808.6,718.4 L1809.2,710.6 L1809.9,702.7 L1810.7,694.6 L1811.5,686.6 L1812.4,678.5 L1813.3,670.4 L1814.3,662.3 L1815.3,654.3 L1816.4,646.2 L1817.6,638.1 L1818.8,630.0 L1820.0,621.9 L1821.3,613.8 L1822.6,605.7 L1824.0,597.5 L1825.5,589.1 L1827.0,580.7 L1828.6,572.2 L1830.2,563.7 L1831.9,555.3 L1833.6,547.0 L1835.3,538.9 L1837.0,531.1 L1838.7,523.6 L1840.4,516.4 L1842.0,509.6 L1843.6,503.4 L1845.2,497.7 L1846.7,492.4 L1848.3,487.5 L1849.8,482.9 L1851.3,478.3 L1852.9,473.7 L1854.6,468.9 L1856.4,463.8 L1858.3,458.2 L1860.4,452.1 L1862.5,445.6 L1864.8,438.9 L1867.3,431.8 L1870.0,424.3 L1872.8,416.3 L1875.8,408.0 L1878.8,399.4 L1882.0,390.6 L1885.1,381.6 L1888.1,372.5 L1891.1,363.4 L1894.0,354.2 L1896.7,345.0 L1899.2,335.8 L1901.6,326.7 L1903.9,317.5 L1906.0,308.4 L1908.1,299.4 L1910.0,290.5 L1911.9,281.7 L1913.7,273.2 L1915.4,264.8 L1917.1,256.8 L1918.6,249.1 L1920.2,241.6 L1921.8,234.1 L1923.3,226.6 L1924.7,219.4 L1926.0,212.3 L1927.3,205.4 L1928.5,198.6 L1929.7,192.1 L1930.9,185.8 L1932.0,179.7 L1933.2,173.9 L1934.4,168.2 L1935.6,162.9 L1936.8,158.0 L1938.0,153.3 L1939.4,148.6 L1940.8,144.0 L1942.3,139.5 L1943.8,134.9 L1945.4,130.2 L1947.1,125.6 L1948.8,120.8 L1950.5,115.9 L1952.2,110.9 L1953.8,105.9 L1955.2,100.9 L1956.6,96.0 L1957.9,91.1 L1959.1,86.3 L1960.2,81.6 L1961.3,77.1 L1962.3,72.8 L1963.2,68.9 L1964.0,65.3 L1964.7,62.2 L1965.3,59.6 L1965.7,57.5Z" fill="url(#lg1)" filter="url(#b12)"/><path d="M1661.0,39.7 L1661.0,47.7 L1660.9,57.9 L1660.8,69.9 L1660.8,83.5 L1660.7,98.1 L1660.6,113.5 L1660.5,129.2 L1660.4,144.9 L1660.3,160.2 L1660.2,174.6 L1660.1,187.8 L1660.0,199.5 L1659.9,209.7 L1659.7,219.2 L1659.4,228.1 L1659.2,236.5 L1659.0,244.6 L1658.7,252.5 L1658.5,260.2 L1658.3,267.8 L1658.1,275.6 L1658.0,283.5 L1658.0,291.7 L1658.0,300.1 L1658.1,308.6 L1658.2,317.0 L1658.3,325.4 L1658.5,333.9 L1658.7,342.5 L1659.0,351.0 L1659.3,359.7 L1659.7,368.3 L1660.2,377.0 L1660.8,385.8 L1661.4,394.6 L1662.1,403.4 L1663.0,412.2 L1663.9,421.0 L1664.9,429.7 L1666.0,438.4 L1667.2,447.1 L1668.4,455.7 L1669.7,464.3 L1671.0,472.8 L1672.3,481.3 L1673.7,489.8 L1675.1,498.2 L1676.6,506.8 L1678.1,515.6 L1679.9,524.4 L1681.8,533.1 L1683.7,541.7 L1685.6,550.1 L1687.5,558.4 L1689.3,566.6 L1691.1,574.7 L1692.7,582.6 L1694.1,590.4 L1695.4,598.1 L1696.4,605.8 L1697.2,613.6 L1697.9,621.6 L1698.4,629.6 L1698.8,637.6 L1699.1,645.7 L1699.3,653.7 L1699.5,661.8 L1699.6,669.9 L1699.7,678.0 L1699.8,686.2 L1699.9,694.3 L1700.1,702.4 L1700.2,710.3 L1700.3,718.1 L1700.4,726.0 L1700.5,734.0 L1700.5,742.2 L1700.6,750.4 L1700.6,758.7 L1700.6,767.1 L1700.7,775.6 L1700.8,784.2 L1700.9,792.9 L1701.0,801.6 L1701.2,810.4 L1701.4,819.5 L1701.7,828.8 L1701.9,838.2 L1702.2,847.6 L1702.5,856.9 L1702.8,865.9 L1703.1,874.5 L1703.4,882.7 L1703.6,890.2 L1703.9,897.0 L1704.1,903.1 L1704.3,908.3 L1704.6,912.7 L1704.9,916.6 L1705.3,920.3 L1705.8,923.6 L1706.0,925.2 L1705.8,924.7 L1705.6,923.7 L1705.5,923.6 L1705.6,925.0 L1705.8,927.9 L1706.1,932.6 L1706.4,938.7 L1706.8,945.8 L1707.3,953.7 L1707.8,962.4 L1708.4,971.5 L1708.9,981.2 L1709.5,991.1 L1710.0,1001.3 L1710.6,1011.5 L1711.1,1021.6 L1711.6,1031.6 L1712.0,1041.2 L1712.4,1051.1 L1712.8,1061.8 L1713.2,1073.0 L1713.6,1084.5 L1714.0,1096.1 L1714.4,1107.6 L1714.7,1118.7 L1715.0,1129.2 L1715.3,1138.8 L1715.6,1147.5 L1715.8,1154.8 L1716.0,1160.7 L1808.0,1159.3 L1808.0,1153.5 L1808.0,1146.2 L1808.0,1137.6 L1808.1,1127.9 L1808.1,1117.3 L1808.1,1106.2 L1808.1,1094.6 L1808.1,1082.9 L1808.1,1071.2 L1808.1,1059.9 L1808.1,1048.9 L1808.0,1038.8 L1807.9,1028.9 L1807.8,1018.7 L1807.7,1008.4 L1807.5,998.0 L1807.4,987.7 L1807.2,977.6 L1807.0,967.8 L1806.8,958.4 L1806.6,949.6 L1806.4,941.4 L1806.2,934.0 L1805.9,927.4 L1805.7,921.9 L1805.3,917.3 L1804.9,913.4 L1804.4,909.6 L1803.7,906.0 L1803.1,903.5 L1802.9,903.2 L1803.0,904.1 L1802.9,904.5 L1802.6,903.5 L1802.3,901.1 L1801.9,896.9 L1801.4,891.2 L1800.9,884.6 L1800.3,877.2 L1799.7,869.2 L1799.0,860.7 L1798.4,851.9 L1797.7,842.8 L1797.1,833.7 L1796.5,824.5 L1795.9,815.5 L1795.4,806.7 L1795.0,798.4 L1794.6,790.5 L1794.4,782.5 L1794.2,774.4 L1794.1,766.3 L1794.0,758.0 L1793.9,749.6 L1793.8,741.2 L1793.7,732.6 L1793.4,724.0 L1793.1,715.2 L1792.6,706.4 L1791.9,697.6 L1791.2,689.0 L1790.3,680.5 L1789.3,672.0 L1788.2,663.4 L1787.0,654.9 L1785.8,646.3 L1784.5,637.7 L1783.2,629.0 L1781.8,620.4 L1780.4,611.7 L1779.0,603.0 L1777.6,594.2 L1776.1,585.2 L1774.5,576.3 L1772.9,567.4 L1771.3,558.7 L1769.6,550.1 L1768.0,541.6 L1766.4,533.2 L1764.9,525.0 L1763.4,516.9 L1762.0,508.9 L1760.7,501.1 L1759.4,493.2 L1758.2,485.1 L1757.0,476.9 L1755.9,468.7 L1754.7,460.5 L1753.7,452.4 L1752.6,444.3 L1751.6,436.3 L1750.7,428.3 L1749.9,420.3 L1749.1,412.3 L1748.5,404.4 L1747.9,396.6 L1747.4,388.7 L1747.0,380.9 L1746.7,373.0 L1746.4,365.0 L1746.2,357.0 L1746.1,349.0 L1746.0,340.9 L1746.0,332.7 L1746.0,324.6 L1746.0,316.3 L1746.0,308.1 L1746.0,299.9 L1746.0,292.0 L1746.1,284.5 L1746.2,277.2 L1746.4,269.9 L1746.6,262.6 L1746.8,255.0 L1747.0,247.2 L1747.2,239.0 L1747.5,230.3 L1747.7,221.1 L1747.8,211.2 L1748.0,200.5 L1748.1,188.7 L1748.2,175.3 L1748.3,160.8 L1748.4,145.5 L1748.5,129.7 L1748.6,114.0 L1748.7,98.6 L1748.8,83.9 L1748.8,70.4 L1748.9,58.3 L1749.0,48.2 L1749.0,40.3Z" fill="url(#lg2)" filter="url(#b10)"/><path d="M1685.0,39.9 L1685.0,47.8 L1684.9,58.0 L1684.8,70.0 L1684.7,83.6 L1684.7,98.2 L1684.6,113.6 L1684.5,129.4 L1684.4,145.1 L1684.3,160.3 L1684.2,174.8 L1684.1,188.1 L1684.0,199.8 L1683.9,210.2 L1683.8,219.9 L1683.7,228.9 L1683.5,237.4 L1683.4,245.6 L1683.3,253.4 L1683.1,261.1 L1683.0,268.7 L1683.0,276.3 L1682.9,284.0 L1682.9,291.9 L1683.0,300.2 L1683.1,308.5 L1683.1,316.9 L1683.2,325.2 L1683.3,333.6 L1683.4,342.0 L1683.6,350.5 L1683.8,358.9 L1684.1,367.4 L1684.4,375.9 L1684.8,384.5 L1685.4,393.0 L1686.1,401.6 L1686.8,410.2 L1687.7,418.7 L1688.7,427.2 L1689.8,435.7 L1691.0,444.2 L1692.2,452.6 L1693.4,461.1 L1694.8,469.5 L1696.1,477.9 L1697.5,486.2 L1698.8,494.6 L1700.2,503.0 L1701.7,511.4 L1703.3,519.9 L1704.9,528.4 L1706.6,536.8 L1708.3,545.1 L1710.1,553.4 L1711.8,561.7 L1713.5,570.0 L1715.1,578.2 L1716.6,586.4 L1718.0,594.6 L1719.2,602.8 L1720.4,611.1 L1721.5,619.5 L1722.6,627.9 L1723.7,636.2 L1724.6,644.5 L1725.5,652.7 L1726.3,660.9 L1727.0,669.1 L1727.7,677.2 L1728.2,685.3 L1728.7,693.3 L1729.0,701.2 L1729.2,709.1 L1729.3,717.1 L1729.2,725.2 L1729.0,733.4 L1728.7,741.7 L1728.3,750.0 L1728.0,758.3 L1727.6,766.7 L1727.3,775.1 L1727.1,783.4 L1727.0,791.8 L1727.0,800.1 L1727.2,808.2 L1727.5,816.5 L1727.9,824.8 L1728.4,833.2 L1728.9,841.4 L1729.4,849.5 L1730.0,857.4 L1730.5,864.9 L1731.0,872.1 L1731.4,878.8 L1731.8,885.0 L1732.0,890.6 L1732.1,895.6 L1732.1,899.9 L1732.1,903.7 L1731.9,907.0 L1731.7,909.9 L1731.5,912.5 L1731.4,915.0 L1731.2,917.3 L1731.0,919.5 L1730.9,921.8 L1730.9,924.3 L1731.0,927.2 L1731.2,930.2 L1731.5,933.1 L1731.8,935.9 L1732.2,938.7 L1732.6,941.6 L1733.1,944.6 L1733.6,947.7 L1734.1,951.0 L1734.6,954.5 L1735.1,958.4 L1735.6,962.6 L1736.0,967.2 L1736.5,972.2 L1737.0,977.3 L1737.6,982.5 L1738.1,988.0 L1738.7,993.6 L1739.2,999.4 L1739.8,1005.5 L1740.3,1011.9 L1740.8,1018.6 L1741.2,1025.6 L1741.7,1032.9 L1742.0,1040.6 L1742.3,1049.3 L1742.6,1059.1 L1742.8,1069.9 L1743.0,1081.3 L1743.2,1093.1 L1743.4,1104.9 L1743.5,1116.4 L1743.6,1127.4 L1743.7,1137.6 L1743.8,1146.6 L1743.9,1154.3 L1744.0,1160.3 L1780.0,1159.7 L1779.9,1153.8 L1779.8,1146.2 L1779.7,1137.1 L1779.6,1127.0 L1779.4,1116.0 L1779.2,1104.4 L1779.1,1092.5 L1778.9,1080.7 L1778.7,1069.2 L1778.5,1058.3 L1778.2,1048.3 L1778.0,1039.4 L1777.7,1031.3 L1777.4,1023.6 L1777.0,1016.4 L1776.6,1009.4 L1776.2,1002.8 L1775.8,996.6 L1775.4,990.6 L1775.0,984.9 L1774.6,979.5 L1774.3,974.4 L1774.1,969.5 L1774.0,964.8 L1773.9,960.3 L1773.9,956.2 L1774.0,952.5 L1774.2,949.0 L1774.3,945.8 L1774.5,942.7 L1774.7,939.7 L1774.9,936.8 L1775.0,934.0 L1775.1,931.0 L1775.1,928.0 L1775.0,924.8 L1774.7,921.7 L1774.4,919.0 L1774.0,916.5 L1773.5,914.1 L1773.0,911.9 L1772.5,909.7 L1771.9,907.4 L1771.4,904.7 L1770.9,901.7 L1770.5,898.3 L1770.2,894.2 L1770.0,889.4 L1769.9,883.8 L1769.8,877.7 L1769.8,871.0 L1769.9,863.8 L1770.0,856.3 L1770.2,848.5 L1770.3,840.5 L1770.5,832.3 L1770.7,824.1 L1770.8,815.9 L1770.9,807.8 L1771.0,799.9 L1771.1,792.2 L1771.2,784.4 L1771.4,776.3 L1771.7,768.1 L1771.9,759.8 L1772.1,751.3 L1772.2,742.7 L1772.2,734.0 L1772.1,725.3 L1771.9,716.4 L1771.5,707.6 L1771.0,698.8 L1770.2,690.1 L1769.2,681.4 L1768.0,672.8 L1766.7,664.3 L1765.3,655.8 L1763.9,647.3 L1762.3,638.9 L1760.8,630.5 L1759.2,622.1 L1757.7,613.8 L1756.2,605.5 L1754.8,597.2 L1753.4,588.7 L1751.9,580.2 L1750.4,571.8 L1748.9,563.3 L1747.4,554.9 L1745.9,546.6 L1744.5,538.2 L1743.0,529.9 L1741.6,521.6 L1740.3,513.4 L1739.0,505.2 L1737.8,497.0 L1736.6,488.8 L1735.4,480.4 L1734.2,472.1 L1733.1,463.9 L1732.0,455.6 L1730.9,447.4 L1729.9,439.1 L1729.0,431.0 L1728.1,422.8 L1727.3,414.6 L1726.6,406.5 L1725.9,398.4 L1725.4,390.3 L1724.9,382.2 L1724.5,374.1 L1724.2,365.9 L1723.9,357.7 L1723.7,349.5 L1723.5,341.3 L1723.4,333.1 L1723.3,324.8 L1723.2,316.5 L1723.1,308.1 L1723.0,299.8 L1722.9,291.8 L1722.9,284.1 L1723.0,276.5 L1723.0,269.1 L1723.1,261.7 L1723.2,254.1 L1723.4,246.3 L1723.5,238.1 L1723.7,229.5 L1723.8,220.4 L1723.9,210.6 L1724.0,200.2 L1724.1,188.4 L1724.2,175.1 L1724.3,160.6 L1724.4,145.3 L1724.5,129.6 L1724.6,113.9 L1724.7,98.5 L1724.7,83.8 L1724.8,70.3 L1724.9,58.2 L1725.0,48.0 L1725.0,40.1Z" fill="url(#lg3)" filter="url(#b8)"/><path d="M709.0,232.0 L714.2,234.9 L720.9,238.8 L728.9,243.4 L737.9,248.5 L747.5,253.9 L757.4,259.5 L767.4,264.9 L777.0,270.0 L786.7,275.0 L796.9,280.0 L807.5,285.2 L818.2,290.3 L828.9,295.4 L839.3,300.4 L849.3,305.3 L858.6,310.0 L867.1,314.4 L874.8,318.6 L882.1,322.6 L889.1,326.6 L896.1,330.5 L903.5,334.5 L911.3,338.6 L920.0,343.0 L929.6,347.6 L939.8,352.4 L950.6,357.4 L961.7,362.4 L972.9,367.5 L984.0,372.5 L994.7,377.3 L1005.0,382.0 L1014.7,386.4 L1023.9,390.7 L1032.9,394.8 L1041.8,398.9 L1050.7,403.0 L1059.8,407.2 L1069.2,411.5 L1079.0,416.0 L1089.5,420.8 L1100.6,425.9 L1112.1,431.2 L1123.7,436.6 L1135.2,441.9 L1146.4,447.1 L1157.1,452.0 L1167.0,456.5 L1176.5,460.8 L1186.0,465.1 L1195.2,469.3 L1204.0,473.3 L1212.1,476.9 L1219.3,480.2 L1225.3,482.9 L1230.0,485.0" fill="none" stroke="url(#ripg)" stroke-width="7" stroke-dasharray="30 9 18 13 44 10 22 15 12 8" filter="url(#b3)"/><path d="M1137.9,448.5 L1140.3,449.7 L1143.2,451.1 L1146.6,452.7 L1150.4,454.6 L1154.5,456.6 L1159.0,458.7 L1163.6,461.0 L1168.4,463.3 L1173.2,465.6 L1178.1,468.0 L1182.9,470.2 L1187.5,472.5 L1192.2,474.7 L1196.9,476.9 L1201.8,479.2 L1206.8,481.5 L1211.9,483.9 L1217.0,486.3 L1222.1,488.7 L1227.2,491.0 L1232.3,493.4 L1237.3,495.8 L1242.2,498.1 L1247.1,500.4 L1251.8,502.6 L1256.3,504.6 L1260.7,506.6 L1264.9,508.5 L1269.1,510.4 L1273.3,512.3 L1277.7,514.3 L1282.1,516.4 L1286.8,518.6 L1291.7,521.1 L1296.9,523.7 L1302.6,526.7 L1308.8,530.0 L1315.6,533.6 L1322.9,537.6 L1330.5,541.7 L1338.3,546.0 L1346.2,550.4 L1354.0,554.8 L1361.7,559.2 L1369.2,563.4 L1376.2,567.5 L1382.6,571.3 L1388.5,574.8 L1393.8,578.0 L1398.8,581.3 L1403.6,584.4 L1408.2,587.5 L1412.5,590.5 L1416.5,593.3 L1420.2,596.0 L1423.7,598.5 L1426.8,600.8 L1429.7,602.9 L1432.2,604.8 L1434.4,606.3 L1445.6,589.7 L1443.5,588.3 L1441.0,586.7 L1438.1,584.8 L1434.9,582.6 L1431.3,580.1 L1427.4,577.5 L1423.1,574.7 L1418.5,571.8 L1413.7,568.8 L1408.6,565.6 L1403.2,562.4 L1397.5,559.2 L1391.5,555.9 L1384.7,552.2 L1377.5,548.3 L1369.9,544.3 L1362.0,540.1 L1354.0,536.0 L1345.9,531.8 L1337.9,527.7 L1330.1,523.7 L1322.7,520.0 L1315.8,516.5 L1309.4,513.3 L1303.6,510.5 L1298.2,507.8 L1293.1,505.4 L1288.3,503.2 L1283.7,501.1 L1279.3,499.2 L1275.0,497.3 L1270.7,495.4 L1266.4,493.6 L1262.1,491.7 L1257.6,489.7 L1252.9,487.6 L1248.0,485.5 L1242.9,483.3 L1237.8,481.0 L1232.7,478.8 L1227.5,476.6 L1222.3,474.4 L1217.1,472.1 L1212.0,469.9 L1207.0,467.8 L1202.0,465.7 L1197.2,463.6 L1192.5,461.5 L1187.8,459.5 L1182.9,457.4 L1178.0,455.2 L1173.1,453.1 L1168.2,450.9 L1163.5,448.9 L1159.0,446.9 L1154.8,445.0 L1150.9,443.3 L1147.5,441.8 L1144.5,440.5 L1142.1,439.5Z" fill="url(#lg4)" filter="url(#b3)"/><path d="M1247.5,499.5 L1250.1,500.8 L1253.2,502.4 L1256.7,504.1 L1260.6,506.1 L1264.9,508.3 L1269.6,510.7 L1274.5,513.2 L1279.7,515.9 L1285.0,518.7 L1290.6,521.7 L1296.2,524.8 L1301.9,528.0 L1308.0,531.5 L1314.6,535.3 L1321.7,539.3 L1329.0,543.5 L1336.6,547.9 L1344.3,552.4 L1351.9,556.9 L1359.5,561.5 L1366.8,565.9 L1373.8,570.2 L1380.4,574.3 L1386.4,578.2 L1391.9,581.9 L1397.1,585.5 L1402.1,589.0 L1406.8,592.5 L1411.4,595.9 L1415.8,599.3 L1420.0,602.6 L1424.2,605.8 L1428.3,609.1 L1432.4,612.3 L1436.5,615.5 L1440.7,618.6 L1444.7,621.6 L1448.5,624.5 L1452.2,627.3 L1455.8,630.0 L1459.3,632.6 L1462.7,635.2 L1466.1,637.7 L1469.4,640.3 L1472.8,642.9 L1476.1,645.5 L1479.5,648.1 L1483.0,650.9 L1486.6,653.7 L1490.2,656.5 L1493.8,659.3 L1497.4,662.1 L1500.9,664.9 L1504.4,667.6 L1507.8,670.4 L1511.2,673.2 L1514.6,676.1 L1518.0,679.0 L1521.4,681.9 L1524.7,685.0 L1528.1,688.1 L1531.5,691.4 L1535.0,694.8 L1538.5,698.2 L1542.0,701.8 L1545.5,705.4 L1549.1,709.1 L1552.6,712.8 L1556.2,716.6 L1559.9,720.4 L1563.5,724.3 L1567.2,728.2 L1570.9,732.1 L1574.8,736.1 L1578.6,740.1 L1582.5,744.1 L1586.3,748.1 L1590.1,752.1 L1593.8,756.0 L1597.4,759.9 L1600.8,763.7 L1604.0,767.4 L1607.0,771.1 L1609.8,774.5 L1612.3,777.8 L1614.6,781.1 L1616.8,784.4 L1618.8,787.8 L1620.9,791.1 L1622.8,794.5 L1624.8,798.0 L1626.8,801.6 L1628.8,805.2 L1631.0,808.9 L1633.2,812.8 L1635.5,816.6 L1637.8,820.4 L1640.1,824.1 L1642.4,827.8 L1644.7,831.5 L1647.0,835.1 L1649.2,838.6 L1651.4,842.1 L1653.5,845.6 L1655.5,848.9 L1657.4,852.2 L1659.2,855.4 L1660.8,858.5 L1662.4,861.6 L1663.8,864.6 L1665.1,867.5 L1666.4,870.5 L1667.6,873.4 L1668.8,876.4 L1670.0,879.5 L1671.2,882.6 L1672.5,885.9 L1673.8,889.2 L1675.2,892.6 L1676.6,896.2 L1678.2,899.7 L1679.8,903.3 L1681.4,906.8 L1683.0,910.4 L1684.6,913.9 L1686.2,917.4 L1687.7,920.9 L1689.3,924.5 L1690.8,928.0 L1692.3,931.5 L1693.7,935.0 L1695.1,938.5 L1696.5,942.2 L1697.9,946.2 L1699.4,950.6 L1700.9,955.1 L1702.4,959.7 L1703.9,964.3 L1705.3,968.7 L1706.6,972.9 L1707.8,976.8 L1708.9,980.3 L1709.9,983.4 L1710.7,985.8 L1745.3,976.2 L1744.8,973.8 L1744.1,970.9 L1743.3,967.3 L1742.4,963.3 L1741.5,958.9 L1740.4,954.2 L1739.3,949.4 L1738.1,944.5 L1736.8,939.5 L1735.6,934.7 L1734.3,930.0 L1732.9,925.5 L1731.6,921.3 L1730.2,917.2 L1728.7,913.1 L1727.2,909.1 L1725.7,905.2 L1724.2,901.3 L1722.7,897.6 L1721.2,893.9 L1719.7,890.2 L1718.2,886.7 L1716.8,883.2 L1715.4,879.8 L1714.0,876.6 L1712.7,873.3 L1711.3,870.1 L1710.0,866.9 L1708.6,863.7 L1707.2,860.4 L1705.8,857.1 L1704.2,853.8 L1702.6,850.3 L1700.9,846.8 L1699.1,843.2 L1697.2,839.5 L1695.1,835.7 L1693.0,831.9 L1690.8,828.2 L1688.6,824.4 L1686.3,820.7 L1684.0,817.0 L1681.7,813.3 L1679.4,809.6 L1677.1,806.0 L1674.9,802.4 L1672.7,798.9 L1670.5,795.4 L1668.5,792.0 L1666.6,788.6 L1664.6,785.1 L1662.6,781.6 L1660.5,777.9 L1658.4,774.1 L1656.1,770.2 L1653.7,766.2 L1651.2,762.2 L1648.4,758.0 L1645.4,753.8 L1642.2,749.5 L1638.8,745.2 L1635.3,740.9 L1631.6,736.7 L1627.8,732.4 L1623.9,728.2 L1620.0,723.9 L1616.1,719.8 L1612.1,715.6 L1608.2,711.5 L1604.3,707.5 L1600.5,703.6 L1596.8,699.8 L1593.1,696.0 L1589.5,692.2 L1585.8,688.3 L1582.0,684.5 L1578.3,680.7 L1574.5,676.9 L1570.7,673.1 L1566.9,669.3 L1563.0,665.7 L1559.1,662.0 L1555.2,658.5 L1551.3,655.0 L1547.3,651.7 L1543.3,648.5 L1539.4,645.4 L1535.4,642.4 L1531.5,639.5 L1527.6,636.7 L1523.8,634.0 L1520.0,631.4 L1516.2,628.8 L1512.4,626.2 L1508.7,623.7 L1505.0,621.1 L1501.2,618.5 L1497.5,616.0 L1493.9,613.5 L1490.2,611.1 L1486.6,608.7 L1482.9,606.3 L1479.2,603.9 L1475.5,601.5 L1471.6,599.1 L1467.7,596.6 L1463.6,594.0 L1459.3,591.4 L1455.1,588.7 L1450.8,586.1 L1446.4,583.3 L1442.0,580.5 L1437.4,577.7 L1432.6,574.7 L1427.7,571.8 L1422.6,568.7 L1417.2,565.6 L1411.6,562.4 L1405.8,559.1 L1399.6,555.8 L1393.0,552.3 L1385.9,548.7 L1378.5,544.9 L1370.7,541.0 L1362.7,537.0 L1354.6,533.1 L1346.6,529.2 L1338.6,525.4 L1330.9,521.7 L1323.5,518.2 L1316.5,514.9 L1310.1,512.0 L1303.9,509.2 L1297.9,506.6 L1292.0,504.1 L1286.3,501.7 L1280.8,499.5 L1275.5,497.5 L1270.6,495.5 L1266.1,493.8 L1262.0,492.2 L1258.3,490.8 L1255.1,489.6 L1252.5,488.5Z" fill="url(#lg5)" filter="url(#b7)"/><path d="M1495.1,616.9 L1496.7,617.8 L1498.7,618.8 L1500.7,619.7 L1502.7,620.7 L1504.7,621.7 L1506.8,622.8 L1509.0,624.0 L1511.2,625.4 L1513.5,627.0 L1515.9,628.7 L1518.3,630.7 L1520.9,632.9 L1523.8,635.6 L1527.1,638.8 L1530.6,642.3 L1534.2,646.0 L1538.0,650.0 L1542.0,654.2 L1546.0,658.5 L1550.0,663.0 L1554.1,667.5 L1558.2,672.0 L1562.2,676.5 L1566.1,681.0 L1570.1,685.5 L1574.1,690.1 L1578.2,694.9 L1582.3,699.7 L1586.5,704.7 L1590.6,709.7 L1594.8,714.7 L1598.9,719.7 L1603.0,724.7 L1607.0,729.7 L1611.0,734.6 L1614.8,739.4 L1618.5,744.1 L1622.3,748.9 L1626.1,753.8 L1629.8,758.6 L1633.5,763.5 L1637.2,768.3 L1640.8,773.1 L1644.3,777.9 L1647.7,782.5 L1651.0,787.1 L1654.2,791.5 L1657.2,795.8 L1660.0,800.0 L1662.8,804.2 L1665.6,808.4 L1668.2,812.7 L1670.8,816.9 L1673.3,820.9 L1675.6,824.8 L1677.8,828.4 L1679.7,831.8 L1681.5,834.8 L1683.1,837.5 L1684.4,839.6 L1705.6,828.4 L1704.6,826.2 L1703.4,823.5 L1702.0,820.3 L1700.4,816.8 L1698.6,812.8 L1696.7,808.6 L1694.7,804.1 L1692.5,799.5 L1690.2,794.7 L1687.8,789.9 L1685.3,785.0 L1682.8,780.2 L1680.2,775.4 L1677.6,770.5 L1674.8,765.4 L1672.0,760.2 L1669.0,754.9 L1665.9,749.4 L1662.7,743.9 L1659.4,738.4 L1656.0,732.9 L1652.5,727.4 L1648.9,722.0 L1645.2,716.6 L1641.4,711.3 L1637.5,706.0 L1633.4,700.7 L1629.2,695.3 L1625.0,690.0 L1620.6,684.7 L1616.2,679.5 L1611.8,674.3 L1607.3,669.3 L1602.8,664.4 L1598.3,659.6 L1593.9,655.0 L1589.4,650.5 L1584.7,646.1 L1580.0,641.7 L1575.1,637.4 L1570.3,633.2 L1565.5,629.2 L1560.8,625.3 L1556.1,621.6 L1551.6,618.1 L1547.3,614.9 L1543.1,611.9 L1539.1,609.1 L1535.1,606.5 L1531.1,604.2 L1527.3,602.3 L1523.6,600.7 L1520.2,599.4 L1516.9,598.3 L1514.0,597.4 L1511.4,596.7 L1509.2,596.2 L1507.3,595.7 L1506.0,595.4 L1504.9,595.1Z" fill="url(#lg6)" filter="url(#b10)"/><path d="M1638.0,440.8 L1637.9,442.3 L1637.8,444.2 L1637.6,446.3 L1637.4,448.7 L1637.3,451.3 L1637.0,454.1 L1636.8,457.0 L1636.5,459.9 L1636.2,462.8 L1635.9,465.6 L1635.5,468.3 L1635.0,470.9 L1634.6,473.5 L1634.2,476.0 L1633.8,478.3 L1633.4,480.4 L1632.9,482.4 L1632.4,484.4 L1631.7,486.3 L1631.0,488.4 L1630.2,490.6 L1629.3,493.0 L1628.3,495.7 L1627.0,498.7 L1625.5,501.8 L1623.7,505.5 L1621.5,509.8 L1619.1,514.5 L1616.6,519.5 L1614.0,524.9 L1611.5,530.6 L1609.1,536.5 L1606.9,542.6 L1605.1,548.9 L1603.8,555.6 L1603.1,562.3 L1602.9,568.4 L1603.1,574.0 L1603.7,579.5 L1604.7,584.7 L1605.9,589.4 L1607.3,593.7 L1608.8,597.5 L1610.2,600.9 L1611.8,604.3 L1613.3,607.7 L1614.9,611.5 L1616.7,616.3 L1618.9,622.2 L1621.5,628.9 L1624.2,635.7 L1627.1,642.8 L1630.2,650.1 L1633.2,657.4 L1636.4,664.8 L1639.5,672.2 L1642.5,679.4 L1645.5,686.4 L1648.2,693.2 L1650.8,699.6 L1653.4,706.0 L1655.9,712.6 L1658.5,719.4 L1661.1,726.4 L1663.7,733.4 L1666.3,740.6 L1668.8,747.7 L1671.2,754.9 L1673.6,762.0 L1675.9,769.0 L1678.1,775.9 L1680.2,782.5 L1682.2,789.1 L1684.1,795.8 L1685.9,802.6 L1687.7,809.3 L1689.4,815.9 L1691.0,822.3 L1692.5,828.4 L1693.9,834.2 L1695.2,839.4 L1696.3,844.1 L1697.3,848.1 L1698.1,851.4 L1717.9,848.6 L1717.8,845.2 L1717.6,841.1 L1717.4,836.3 L1717.1,830.9 L1716.9,825.0 L1716.6,818.7 L1716.4,812.1 L1716.2,805.2 L1716.0,798.3 L1715.8,791.2 L1715.8,784.3 L1715.8,777.5 L1716.0,770.7 L1716.4,763.8 L1716.9,756.6 L1717.5,749.1 L1718.1,741.5 L1718.7,733.7 L1719.3,725.7 L1719.7,717.6 L1719.9,709.4 L1720.0,701.2 L1719.7,692.8 L1719.2,684.4 L1718.2,675.9 L1717.0,667.2 L1715.6,658.5 L1714.0,649.9 L1712.3,641.4 L1710.5,633.1 L1708.7,625.0 L1706.9,617.3 L1705.3,610.1 L1703.7,603.4 L1702.4,597.3 L1701.3,591.7 L1700.1,586.2 L1698.9,580.9 L1697.9,576.3 L1697.0,572.4 L1696.3,569.3 L1695.8,566.8 L1695.5,565.1 L1695.2,563.8 L1694.9,562.7 L1694.4,561.5 L1693.7,559.8 L1692.9,557.7 L1692.0,555.4 L1690.8,552.2 L1689.6,548.3 L1688.3,543.7 L1687.0,538.7 L1685.8,533.3 L1684.5,527.8 L1683.3,522.3 L1682.1,516.8 L1681.0,511.4 L1680.0,506.2 L1679.0,501.3 L1678.0,497.2 L1677.1,493.5 L1676.1,490.2 L1675.3,487.2 L1674.4,484.4 L1673.5,481.9 L1672.7,479.5 L1671.9,477.4 L1671.1,475.3 L1670.4,473.3 L1669.7,471.3 L1669.0,469.1 L1668.3,466.5 L1667.5,463.7 L1666.8,460.8 L1666.2,457.9 L1665.5,455.0 L1664.8,452.1 L1664.2,449.4 L1663.7,446.8 L1663.2,444.5 L1662.7,442.4 L1662.3,440.6 L1662.0,439.2Z" fill="url(#lg7)" filter="url(#b10)"/><path d="M1423.3,313.8 L1423.9,314.7 L1424.6,315.6 L1425.3,316.7 L1426.0,317.9 L1426.8,319.1 L1427.8,320.6 L1428.8,322.2 L1430.0,324.0 L1431.4,326.1 L1432.9,328.4 L1434.7,330.9 L1436.6,333.8 L1438.9,337.1 L1441.6,341.0 L1444.6,345.2 L1447.8,349.7 L1451.1,354.5 L1454.6,359.4 L1458.0,364.3 L1461.4,369.2 L1464.6,373.9 L1467.6,378.5 L1470.3,382.7 L1472.6,386.4 L1474.4,389.7 L1475.9,392.6 L1477.1,395.4 L1478.2,398.1 L1479.2,400.7 L1480.1,403.4 L1481.1,406.2 L1482.3,409.1 L1483.5,412.2 L1485.1,415.5 L1486.9,419.0 L1489.0,422.6 L1491.4,426.4 L1493.9,430.2 L1496.6,434.1 L1499.5,438.0 L1502.4,441.9 L1505.4,445.8 L1508.3,449.7 L1511.3,453.5 L1514.1,457.3 L1516.9,460.9 L1519.5,464.3 L1521.9,467.5 L1524.2,470.7 L1526.4,473.7 L1528.5,476.6 L1530.6,479.5 L1532.6,482.4 L1534.7,485.3 L1536.8,488.1 L1538.9,491.0 L1541.1,493.9 L1543.4,496.9 L1545.7,499.9 L1548.2,502.9 L1550.7,505.9 L1553.3,509.0 L1556.0,511.9 L1558.6,514.9 L1561.3,517.9 L1564.0,520.8 L1566.6,523.6 L1569.3,526.5 L1572.0,529.3 L1574.6,532.1 L1577.2,534.8 L1579.7,537.5 L1582.4,540.3 L1585.3,543.3 L1588.2,546.3 L1591.2,549.4 L1594.2,552.4 L1597.1,555.4 L1599.9,558.2 L1602.6,560.9 L1605.0,563.4 L1607.2,565.5 L1609.0,567.4 L1610.5,568.9 L1629.5,551.1 L1628.1,549.5 L1626.3,547.5 L1624.2,545.2 L1621.9,542.7 L1619.4,539.9 L1616.8,536.9 L1614.0,533.8 L1611.2,530.6 L1608.4,527.5 L1605.6,524.4 L1602.9,521.3 L1600.3,518.5 L1597.7,515.7 L1595.1,512.8 L1592.5,510.0 L1589.8,507.2 L1587.2,504.4 L1584.5,501.6 L1582.0,498.8 L1579.4,496.0 L1576.9,493.3 L1574.4,490.5 L1572.1,487.8 L1569.8,485.1 L1567.6,482.4 L1565.6,479.8 L1563.6,477.1 L1561.6,474.4 L1559.7,471.6 L1557.7,468.8 L1555.7,466.0 L1553.6,463.1 L1551.4,460.0 L1549.1,456.9 L1546.7,453.7 L1544.1,450.5 L1541.3,447.0 L1538.3,443.5 L1535.2,440.0 L1532.1,436.4 L1528.8,432.8 L1525.6,429.2 L1522.5,425.6 L1519.4,422.1 L1516.5,418.7 L1513.7,415.4 L1511.2,412.3 L1509.0,409.4 L1507.1,406.7 L1505.5,404.3 L1504.1,402.0 L1502.9,399.6 L1501.6,397.3 L1500.4,394.7 L1499.0,392.1 L1497.6,389.2 L1495.9,386.1 L1494.1,382.8 L1491.9,379.3 L1489.4,375.6 L1486.6,371.7 L1483.5,367.4 L1480.1,362.9 L1476.5,358.2 L1472.8,353.4 L1469.0,348.6 L1465.3,343.9 L1461.6,339.3 L1458.1,335.0 L1454.9,330.9 L1452.0,327.3 L1449.4,324.2 L1447.1,321.5 L1445.1,319.1 L1443.2,316.9 L1441.4,315.0 L1439.9,313.4 L1438.5,311.9 L1437.2,310.7 L1436.1,309.6 L1435.1,308.6 L1434.2,307.7 L1433.4,307.0 L1432.7,306.2Z" fill="url(#lg8)" filter="url(#b7)"/><path d="M1456.0,475.7 L1456.9,476.5 L1458.1,477.3 L1459.3,478.2 L1460.6,479.1 L1462.0,480.2 L1463.6,481.4 L1465.3,482.7 L1467.2,484.1 L1469.2,485.7 L1471.3,487.4 L1473.6,489.3 L1476.1,491.3 L1478.7,493.6 L1481.6,496.2 L1484.7,499.0 L1488.1,502.1 L1491.6,505.3 L1495.2,508.6 L1499.0,512.0 L1502.8,515.4 L1506.6,518.8 L1510.5,522.0 L1514.3,525.2 L1518.2,528.1 L1522.0,530.9 L1525.9,533.5 L1529.7,535.9 L1533.6,538.1 L1537.3,540.3 L1541.0,542.4 L1544.6,544.5 L1548.2,546.6 L1551.6,548.7 L1555.1,550.9 L1558.4,553.2 L1561.7,555.8 L1565.1,558.6 L1568.9,561.9 L1572.8,565.5 L1576.8,569.4 L1580.9,573.3 L1584.9,577.3 L1588.8,581.2 L1592.4,585.0 L1595.8,588.4 L1598.8,591.5 L1601.5,594.2 L1603.6,596.3 L1616.4,583.7 L1614.5,581.7 L1612.1,579.0 L1609.2,575.8 L1606.0,572.2 L1602.4,568.3 L1598.6,564.2 L1594.6,559.9 L1590.6,555.7 L1586.4,551.5 L1582.3,547.4 L1578.3,543.7 L1574.3,540.2 L1570.4,537.2 L1566.5,534.3 L1562.6,531.7 L1558.7,529.2 L1554.9,526.9 L1551.1,524.7 L1547.4,522.6 L1543.8,520.5 L1540.2,518.4 L1536.7,516.3 L1533.3,514.2 L1529.8,511.9 L1526.3,509.4 L1522.5,506.6 L1518.7,503.8 L1514.8,500.8 L1510.8,497.8 L1506.9,494.7 L1503.0,491.7 L1499.3,488.8 L1495.6,486.0 L1492.2,483.4 L1488.9,480.9 L1485.9,478.7 L1483.2,476.7 L1480.6,474.9 L1478.2,473.3 L1476.0,471.8 L1473.9,470.5 L1472.0,469.2 L1470.2,468.1 L1468.7,467.2 L1467.3,466.3 L1466.0,465.5 L1464.9,464.9 L1464.0,464.3Z" fill="url(#lg9)" filter="url(#b7)"/><path d="M1533.7,474.9 L1534.2,475.9 L1534.9,477.1 L1535.7,478.7 L1536.7,480.4 L1537.8,482.4 L1538.9,484.5 L1540.2,486.7 L1541.6,489.0 L1543.2,491.3 L1544.8,493.6 L1546.5,495.8 L1548.4,497.9 L1550.2,499.8 L1552.0,501.6 L1553.9,503.4 L1555.9,505.3 L1557.9,507.0 L1560.0,508.8 L1562.2,510.5 L1564.5,512.2 L1566.8,513.9 L1569.2,515.5 L1571.7,517.0 L1574.2,518.5 L1576.9,520.0 L1579.7,521.3 L1582.5,522.6 L1585.2,523.7 L1587.9,524.7 L1590.5,525.7 L1593.2,526.6 L1595.7,527.5 L1598.2,528.3 L1600.5,529.2 L1602.9,530.1 L1605.1,531.0 L1607.6,532.0 L1610.2,533.1 L1613.1,534.3 L1616.0,535.5 L1619.0,536.8 L1621.9,538.0 L1624.7,539.3 L1627.4,540.4 L1629.8,541.5 L1632.0,542.4 L1634.0,543.3 L1635.5,543.9 L1644.5,526.1 L1643.1,525.3 L1641.4,524.2 L1639.4,523.0 L1637.1,521.6 L1634.6,520.1 L1631.9,518.5 L1629.1,516.8 L1626.2,515.1 L1623.3,513.5 L1620.4,511.9 L1617.6,510.4 L1614.9,509.0 L1612.1,507.8 L1609.3,506.6 L1606.6,505.5 L1603.9,504.5 L1601.2,503.6 L1598.7,502.7 L1596.3,501.8 L1593.9,501.0 L1591.7,500.1 L1589.6,499.3 L1587.6,498.4 L1585.8,497.5 L1583.9,496.4 L1581.9,495.3 L1579.9,494.1 L1578.0,492.8 L1576.1,491.5 L1574.2,490.2 L1572.3,488.9 L1570.5,487.5 L1568.7,486.1 L1567.0,484.7 L1565.2,483.4 L1563.6,482.1 L1562.1,480.8 L1560.6,479.5 L1559.0,478.0 L1557.3,476.5 L1555.7,474.8 L1554.1,473.2 L1552.5,471.6 L1551.0,470.1 L1549.7,468.6 L1548.4,467.3 L1547.3,466.1 L1546.3,465.1Z" fill="url(#lg10)" filter="url(#b7)"/><ellipse cx="1615" cy="430" rx="28" ry="90" fill="#fff" fill-opacity="0.09" filter="url(#b15)"/><ellipse cx="1562" cy="478" rx="66" ry="58" fill="#fff" fill-opacity="0.07" filter="url(#b20)"/><ellipse cx="1535" cy="540" rx="62" ry="26" fill="#fff" fill-opacity="0.10" filter="url(#b15)"/><rect x="1505" y="700" width="65" height="410" fill="#fff" fill-opacity="0.012" filter="url(#b10)"/></g></g>
<rect x="206" y="61" width="2127" height="2.2" fill="#5a5a5a"/>
<g stroke="#fff" stroke-opacity="0.055" stroke-width="2.6"><line x1="218.0" y1="66" x2="218.0" y2="1148"/><line x1="295.8" y1="66" x2="295.8" y2="1148"/><line x1="373.7" y1="66" x2="373.7" y2="1148"/><line x1="451.5" y1="66" x2="451.5" y2="1148"/><line x1="529.4" y1="66" x2="529.4" y2="1148"/><line x1="607.2" y1="66" x2="607.2" y2="1148"/><line x1="685.0" y1="66" x2="685.0" y2="1148"/><line x1="762.9" y1="66" x2="762.9" y2="1148"/><line x1="840.7" y1="66" x2="840.7" y2="1148"/><line x1="918.6" y1="66" x2="918.6" y2="1148"/><line x1="996.4" y1="66" x2="996.4" y2="1148"/><line x1="1074.2" y1="66" x2="1074.2" y2="1148"/><line x1="1152.1" y1="66" x2="1152.1" y2="1148"/><line x1="1229.9" y1="66" x2="1229.9" y2="1148"/><line x1="1307.8" y1="66" x2="1307.8" y2="1148"/><line x1="1385.6" y1="66" x2="1385.6" y2="1148"/><line x1="1463.4" y1="66" x2="1463.4" y2="1148"/><line x1="1541.3" y1="66" x2="1541.3" y2="1148"/><line x1="1619.1" y1="66" x2="1619.1" y2="1148"/><line x1="1697.0" y1="66" x2="1697.0" y2="1148"/><line x1="1774.8" y1="66" x2="1774.8" y2="1148"/><line x1="1852.6" y1="66" x2="1852.6" y2="1148"/><line x1="1930.5" y1="66" x2="1930.5" y2="1148"/><line x1="2008.3" y1="66" x2="2008.3" y2="1148"/><line x1="2086.2" y1="66" x2="2086.2" y2="1148"/><line x1="2164.0" y1="66" x2="2164.0" y2="1148"/><line x1="208" y1="74.5" x2="2164" y2="74.5"/><line x1="208" y1="181.4" x2="2164" y2="181.4"/><line x1="208" y1="288.3" x2="2164" y2="288.3"/><line x1="208" y1="395.2" x2="2164" y2="395.2"/><line x1="208" y1="502.1" x2="2164" y2="502.1"/><line x1="208" y1="609.0" x2="2164" y2="609.0"/><line x1="208" y1="715.9" x2="2164" y2="715.9"/><line x1="208" y1="822.8" x2="2164" y2="822.8"/><line x1="208" y1="929.7" x2="2164" y2="929.7"/><line x1="208" y1="1036.6" x2="2164" y2="1036.6"/></g>
<path d="M997.4,65V174M997.4,245V1148" stroke="#fff" stroke-opacity="0.10" stroke-width="2.5"/>
<rect x="205" y="1150" width="2129" height="11.5" fill="url(#axh)"/>
<rect x="194" y="60" width="13" height="1101.5" fill="url(#axv)"/>
<polygon points="199.5,35 217,78 207.5,78 204.5,62 194,62 190,79 180,79" fill="#e3202c"/>
<polygon points="2333,1144 2355,1156 2333,1168 2337,1157" fill="#c8303c"/>
<rect x="228" y="1350" width="2101" height="1091" fill="#000"/>
<g clip-path="url(#clipB)"><g filter="url(#cool)"><rect x="150" y="1300" width="2250" height="1200" fill="#000"/><path d="M1575.0,1345.7 L1575.0,1346.1 L1575.0,1346.0 L1575.0,1346.2 L1575.0,1346.8 L1574.9,1347.8 L1574.9,1349.1 L1574.9,1350.5 L1574.9,1352.3 L1574.9,1354.5 L1574.9,1357.2 L1575.0,1360.5 L1575.0,1364.5 L1575.1,1369.2 L1575.1,1374.8 L1575.2,1381.1 L1575.2,1388.1 L1575.3,1395.5 L1575.3,1403.3 L1575.5,1411.4 L1575.6,1419.6 L1575.8,1427.8 L1576.0,1435.9 L1576.2,1443.9 L1576.5,1451.4 L1576.8,1458.4 L1577.1,1465.2 L1577.3,1472.2 L1577.5,1479.2 L1577.8,1486.3 L1578.1,1493.6 L1578.6,1500.9 L1579.2,1508.5 L1579.9,1516.2 L1580.9,1524.1 L1582.1,1532.2 L1583.5,1540.5 L1585.3,1549.1 L1587.4,1557.9 L1589.7,1566.7 L1592.2,1575.5 L1594.8,1584.4 L1597.5,1593.1 L1600.2,1601.8 L1602.8,1610.2 L1605.4,1618.3 L1607.9,1626.0 L1610.1,1633.3 L1612.2,1640.2 L1614.0,1646.6 L1615.8,1652.9 L1617.4,1658.9 L1619.0,1664.8 L1620.6,1670.5 L1622.1,1676.1 L1623.7,1681.7 L1625.3,1687.3 L1627.0,1692.8 L1628.7,1698.4 L1630.6,1704.1 L1632.7,1709.8 L1634.8,1715.3 L1636.9,1720.6 L1639.0,1725.6 L1641.1,1730.5 L1643.3,1735.3 L1645.5,1740.1 L1647.8,1744.9 L1650.2,1749.8 L1652.7,1754.9 L1655.3,1760.1 L1658.1,1765.7 L1661.1,1771.7 L1664.4,1778.2 L1667.9,1785.0 L1671.5,1792.1 L1675.3,1799.3 L1679.3,1806.7 L1683.3,1814.2 L1687.3,1821.9 L1691.4,1829.6 L1695.5,1837.4 L1699.5,1845.2 L1703.5,1852.9 L1707.4,1860.6 L1711.3,1868.6 L1715.4,1876.8 L1719.5,1885.2 L1723.7,1893.8 L1727.9,1902.4 L1732.1,1911.1 L1736.1,1919.6 L1740.1,1928.0 L1744.0,1936.2 L1747.6,1944.0 L1751.0,1951.5 L1754.2,1958.5 L1757.1,1965.3 L1760.0,1972.1 L1762.8,1978.8 L1765.4,1985.4 L1768.0,1991.9 L1770.4,1998.1 L1772.6,2004.0 L1774.7,2009.5 L1776.6,2014.6 L1778.3,2019.2 L1779.8,2023.2 L1781.1,2026.6 L1818.9,2013.4 L1817.9,2010.2 L1816.7,2006.3 L1815.4,2001.7 L1813.8,1996.4 L1812.1,1990.7 L1810.3,1984.4 L1808.2,1977.8 L1806.1,1970.9 L1803.7,1963.7 L1801.2,1956.4 L1798.6,1948.9 L1795.8,1941.5 L1792.9,1933.9 L1789.7,1925.9 L1786.3,1917.6 L1782.8,1909.0 L1779.1,1900.3 L1775.3,1891.4 L1771.5,1882.5 L1767.6,1873.6 L1763.8,1864.8 L1760.0,1856.1 L1756.2,1847.6 L1752.6,1839.4 L1749.0,1831.2 L1745.3,1823.0 L1741.5,1814.8 L1737.8,1806.7 L1734.0,1798.7 L1730.4,1790.8 L1726.8,1783.0 L1723.3,1775.5 L1719.9,1768.3 L1716.7,1761.3 L1713.7,1754.6 L1710.9,1748.3 L1708.2,1742.3 L1705.8,1736.6 L1703.5,1731.3 L1701.3,1726.3 L1699.3,1721.6 L1697.5,1717.1 L1695.7,1712.7 L1694.0,1708.4 L1692.3,1704.1 L1690.7,1699.7 L1689.0,1695.1 L1687.3,1690.2 L1685.6,1685.3 L1684.1,1680.5 L1682.6,1675.7 L1681.1,1670.7 L1679.6,1665.7 L1678.1,1660.5 L1676.6,1655.1 L1675.1,1649.4 L1673.4,1643.5 L1671.7,1637.3 L1669.8,1630.8 L1667.8,1623.8 L1665.6,1616.5 L1663.2,1608.7 L1660.7,1600.7 L1658.1,1592.6 L1655.5,1584.3 L1652.9,1576.0 L1650.4,1567.7 L1648.0,1559.5 L1645.7,1551.5 L1643.7,1543.8 L1641.9,1536.4 L1640.5,1529.5 L1639.3,1522.8 L1638.2,1516.2 L1637.4,1509.7 L1636.7,1503.1 L1636.1,1496.6 L1635.6,1490.1 L1635.2,1483.5 L1634.8,1476.7 L1634.5,1469.9 L1634.2,1462.9 L1633.9,1455.8 L1633.5,1448.6 L1633.1,1441.4 L1632.7,1433.9 L1632.5,1426.2 L1632.2,1418.2 L1632.0,1410.2 L1631.8,1402.3 L1631.6,1394.6 L1631.5,1387.3 L1631.3,1380.4 L1631.2,1374.0 L1631.1,1368.4 L1631.0,1363.5 L1630.9,1359.6 L1630.9,1356.5 L1630.8,1354.1 L1630.8,1352.3 L1630.8,1351.0 L1630.8,1350.2 L1630.9,1349.7 L1630.9,1349.5 L1630.9,1349.1 L1630.9,1348.3 L1631.0,1347.2 L1631.0,1346.3Z" fill="url(#lg11)" filter="url(#b13)"/><path d="M1763.0,1660.9 L1762.7,1662.8 L1762.4,1665.1 L1762.0,1667.8 L1761.5,1670.9 L1761.0,1674.2 L1760.5,1677.9 L1760.0,1681.7 L1759.4,1685.7 L1758.9,1689.8 L1758.4,1693.9 L1758.0,1698.0 L1757.6,1702.1 L1757.2,1706.1 L1756.8,1710.2 L1756.5,1714.4 L1756.1,1718.6 L1755.8,1723.0 L1755.5,1727.5 L1755.2,1732.0 L1754.9,1736.5 L1754.7,1741.0 L1754.5,1745.6 L1754.4,1750.1 L1754.3,1754.7 L1754.3,1759.2 L1754.3,1763.5 L1754.3,1767.6 L1754.4,1771.5 L1754.4,1775.2 L1754.5,1778.9 L1754.5,1782.6 L1754.6,1786.5 L1754.8,1790.6 L1754.9,1795.1 L1755.1,1800.1 L1755.4,1805.7 L1755.7,1812.2 L1756.2,1819.4 L1756.7,1827.1 L1757.3,1835.3 L1757.9,1843.9 L1758.5,1852.8 L1759.2,1861.8 L1759.8,1870.8 L1760.5,1879.8 L1761.1,1888.6 L1761.7,1897.2 L1762.3,1905.5 L1762.8,1913.5 L1763.3,1921.2 L1763.8,1928.9 L1764.3,1936.4 L1764.7,1943.8 L1765.1,1951.1 L1765.6,1958.5 L1766.0,1965.9 L1766.5,1973.3 L1767.0,1980.9 L1767.6,1988.7 L1768.2,1996.6 L1768.9,2004.8 L1769.6,2013.2 L1770.3,2021.9 L1771.1,2030.7 L1771.9,2039.8 L1772.7,2049.0 L1773.5,2058.2 L1774.4,2067.5 L1775.3,2076.8 L1776.3,2086.1 L1777.2,2095.3 L1778.2,2104.3 L1779.2,2113.2 L1780.2,2121.9 L1781.3,2130.5 L1782.4,2139.0 L1783.5,2147.3 L1784.6,2155.6 L1785.8,2163.8 L1786.9,2172.0 L1788.0,2180.1 L1789.1,2188.1 L1790.2,2196.2 L1791.2,2204.3 L1792.2,2212.4 L1793.3,2220.4 L1794.3,2228.2 L1795.4,2235.9 L1796.4,2243.6 L1797.4,2251.3 L1798.4,2259.1 L1799.4,2267.1 L1800.3,2275.4 L1801.3,2284.0 L1802.2,2293.0 L1803.1,2302.5 L1803.9,2312.9 L1804.8,2324.7 L1805.7,2337.4 L1806.6,2350.7 L1807.5,2364.3 L1808.3,2377.9 L1809.1,2391.2 L1809.8,2403.8 L1810.5,2415.5 L1811.1,2425.9 L1811.6,2434.7 L1812.0,2441.6 L1892.0,2438.4 L1891.8,2431.5 L1891.7,2422.7 L1891.5,2412.3 L1891.2,2400.6 L1891.0,2388.0 L1890.7,2374.6 L1890.4,2360.9 L1890.1,2347.1 L1889.8,2333.6 L1889.5,2320.6 L1889.2,2308.5 L1888.9,2297.5 L1888.6,2287.5 L1888.3,2278.1 L1888.0,2269.0 L1887.7,2260.3 L1887.4,2251.9 L1887.1,2243.7 L1886.8,2235.7 L1886.4,2227.8 L1886.0,2219.9 L1885.7,2212.0 L1885.2,2204.0 L1884.8,2195.7 L1884.3,2187.2 L1883.8,2178.7 L1883.2,2170.3 L1882.6,2162.0 L1882.0,2153.7 L1881.4,2145.4 L1880.7,2137.1 L1880.1,2128.9 L1879.5,2120.6 L1878.9,2112.4 L1878.3,2104.1 L1877.8,2095.7 L1877.3,2087.2 L1876.9,2078.5 L1876.5,2069.5 L1876.1,2060.5 L1875.7,2051.3 L1875.3,2042.0 L1874.9,2032.7 L1874.4,2023.5 L1873.9,2014.3 L1873.3,2005.1 L1872.6,1996.2 L1871.8,1987.4 L1870.9,1978.9 L1869.9,1970.7 L1868.9,1962.8 L1867.7,1955.0 L1866.6,1947.4 L1865.4,1939.9 L1864.1,1932.4 L1862.9,1925.0 L1861.6,1917.5 L1860.3,1910.0 L1859.0,1902.3 L1857.7,1894.5 L1856.4,1886.3 L1855.0,1877.8 L1853.6,1869.0 L1852.2,1860.0 L1850.7,1851.0 L1849.2,1842.0 L1847.8,1833.1 L1846.3,1824.5 L1844.8,1816.2 L1843.4,1808.4 L1842.0,1801.0 L1840.6,1794.3 L1839.3,1788.1 L1837.9,1782.5 L1836.5,1777.4 L1835.2,1772.8 L1833.9,1768.6 L1832.7,1764.9 L1831.4,1761.4 L1830.2,1758.2 L1829.1,1755.1 L1827.9,1752.0 L1826.8,1748.8 L1825.7,1745.3 L1824.5,1741.5 L1823.4,1737.5 L1822.2,1733.5 L1821.1,1729.4 L1819.9,1725.4 L1818.8,1721.3 L1817.6,1717.2 L1816.5,1713.2 L1815.4,1709.2 L1814.4,1705.4 L1813.4,1701.6 L1812.4,1697.9 L1811.5,1694.3 L1810.5,1690.7 L1809.6,1687.0 L1808.7,1683.2 L1807.8,1679.5 L1806.9,1675.9 L1806.1,1672.4 L1805.3,1669.1 L1804.6,1666.1 L1804.0,1663.4 L1803.4,1661.0 L1803.0,1659.1Z" fill="url(#lg12)" filter="url(#b13)"/><path d="M788.0,1574.6 L789.4,1575.3 L790.9,1576.1 L792.3,1576.8 L794.0,1577.7 L795.8,1578.6 L798.1,1579.8 L800.8,1581.2 L804.1,1582.8 L808.0,1584.9 L812.8,1587.2 L818.5,1590.1 L825.1,1593.4 L832.9,1597.2 L841.6,1601.7 L851.2,1606.5 L861.7,1611.8 L872.8,1617.5 L884.5,1623.4 L896.7,1629.4 L909.3,1635.7 L922.1,1642.0 L935.1,1648.2 L948.1,1654.4 L961.1,1660.5 L974.2,1666.5 L987.9,1672.6 L1001.8,1678.7 L1016.1,1684.9 L1030.7,1691.1 L1045.4,1697.4 L1060.2,1703.7 L1075.1,1710.0 L1089.9,1716.4 L1104.7,1722.8 L1119.3,1729.3 L1133.7,1735.7 L1148.1,1742.2 L1162.8,1748.9 L1177.6,1755.6 L1192.5,1762.4 L1207.3,1769.2 L1222.1,1776.1 L1236.8,1782.9 L1251.1,1789.6 L1265.2,1796.3 L1278.9,1802.9 L1292.2,1809.4 L1304.9,1815.7 L1317.2,1821.8 L1329.1,1827.8 L1340.6,1833.6 L1351.7,1839.4 L1362.6,1845.1 L1373.2,1850.7 L1383.5,1856.4 L1393.7,1862.0 L1403.7,1867.6 L1413.6,1873.2 L1423.3,1879.0 L1433.0,1884.8 L1442.6,1890.6 L1451.9,1896.5 L1461.1,1902.4 L1470.1,1908.4 L1479.0,1914.3 L1487.7,1920.3 L1496.4,1926.4 L1504.9,1932.4 L1513.2,1938.4 L1521.5,1944.5 L1529.8,1950.5 L1537.9,1956.5 L1545.9,1962.6 L1553.8,1968.6 L1561.7,1974.8 L1569.5,1980.9 L1577.2,1987.1 L1584.8,1993.3 L1592.1,1999.4 L1599.3,2005.4 L1606.4,2011.3 L1613.1,2017.1 L1619.7,2022.8 L1625.9,2028.2 L1631.8,2033.5 L1637.3,2038.5 L1642.6,2043.4 L1647.7,2048.2 L1652.5,2052.9 L1657.2,2057.6 L1661.8,2062.2 L1666.3,2066.8 L1670.8,2071.4 L1675.2,2076.0 L1679.7,2080.6 L1684.2,2085.3 L1688.7,2090.0 L1693.2,2094.7 L1697.5,2099.2 L1701.7,2103.7 L1705.9,2108.1 L1709.9,2112.5 L1713.9,2116.9 L1717.7,2121.2 L1721.5,2125.6 L1725.2,2130.0 L1728.8,2134.4 L1732.3,2138.9 L1735.9,2143.6 L1739.4,2148.2 L1742.9,2152.9 L1746.2,2157.6 L1749.5,2162.2 L1752.7,2166.9 L1755.8,2171.5 L1758.8,2176.2 L1761.6,2181.0 L1764.4,2185.7 L1767.0,2190.5 L1769.5,2195.4 L1771.9,2200.4 L1774.2,2205.5 L1776.4,2210.7 L1778.5,2216.0 L1780.6,2221.5 L1782.6,2227.0 L1784.5,2232.6 L1786.4,2238.3 L1788.2,2244.0 L1790.0,2249.8 L1791.7,2255.7 L1793.4,2261.5 L1795.1,2267.3 L1796.6,2272.9 L1798.1,2278.5 L1799.4,2283.9 L1800.8,2289.4 L1802.0,2295.0 L1803.2,2300.7 L1804.4,2306.6 L1805.5,2312.7 L1806.6,2319.2 L1807.7,2326.0 L1808.7,2333.2 L1809.7,2341.1 L1810.8,2350.1 L1811.8,2359.9 L1812.7,2370.3 L1813.7,2380.9 L1814.6,2391.6 L1815.4,2402.1 L1816.2,2412.0 L1816.9,2421.2 L1817.6,2429.5 L1818.1,2436.5 L1818.6,2442.0 L1865.4,2438.0 L1865.0,2432.6 L1864.4,2425.8 L1863.8,2417.6 L1863.1,2408.4 L1862.3,2398.3 L1861.4,2387.8 L1860.5,2376.9 L1859.6,2366.0 L1858.5,2355.3 L1857.5,2345.1 L1856.4,2335.5 L1855.3,2326.8 L1854.1,2319.0 L1853.0,2311.6 L1851.8,2304.6 L1850.6,2297.9 L1849.3,2291.3 L1848.0,2285.0 L1846.6,2278.8 L1845.2,2272.7 L1843.6,2266.7 L1842.0,2260.7 L1840.3,2254.6 L1838.6,2248.5 L1836.7,2242.3 L1834.8,2236.0 L1832.8,2229.8 L1830.8,2223.6 L1828.6,2217.4 L1826.4,2211.2 L1824.1,2205.0 L1821.6,2198.8 L1819.0,2192.7 L1816.3,2186.6 L1813.5,2180.5 L1810.5,2174.6 L1807.4,2168.7 L1804.2,2163.0 L1800.8,2157.4 L1797.4,2151.9 L1793.9,2146.5 L1790.3,2141.2 L1786.6,2136.1 L1782.9,2131.0 L1779.2,2125.9 L1775.4,2120.9 L1771.6,2116.0 L1767.7,2111.1 L1763.7,2106.1 L1759.5,2101.2 L1755.4,2096.3 L1751.2,2091.6 L1746.9,2086.9 L1742.6,2082.3 L1738.2,2077.7 L1733.8,2073.1 L1729.4,2068.5 L1724.9,2063.9 L1720.3,2059.3 L1715.8,2054.7 L1711.2,2050.0 L1706.6,2045.4 L1702.0,2040.7 L1697.4,2036.0 L1692.6,2031.3 L1687.8,2026.5 L1682.7,2021.7 L1677.5,2016.7 L1672.1,2011.7 L1666.4,2006.5 L1660.4,2001.2 L1654.1,1995.8 L1647.5,1990.2 L1640.7,1984.5 L1633.7,1978.7 L1626.4,1972.7 L1618.8,1966.6 L1611.1,1960.5 L1603.2,1954.3 L1595.2,1948.1 L1587.1,1941.9 L1578.8,1935.7 L1570.5,1929.5 L1562.1,1923.5 L1553.7,1917.5 L1545.3,1911.5 L1536.7,1905.4 L1528.0,1899.4 L1519.2,1893.3 L1510.3,1887.3 L1501.1,1881.2 L1491.9,1875.2 L1482.4,1869.2 L1472.8,1863.2 L1463.0,1857.2 L1453.0,1851.2 L1442.9,1845.4 L1432.8,1839.6 L1422.6,1833.9 L1412.2,1828.3 L1401.7,1822.6 L1391.1,1817.0 L1380.2,1811.4 L1369.0,1805.7 L1357.6,1800.0 L1345.8,1794.2 L1333.6,1788.3 L1321.1,1782.3 L1308.0,1776.2 L1294.4,1770.0 L1280.4,1763.7 L1266.0,1757.2 L1251.3,1750.8 L1236.4,1744.3 L1221.3,1737.8 L1206.2,1731.4 L1191.0,1725.0 L1176.0,1718.6 L1161.1,1712.4 L1146.3,1706.3 L1131.6,1700.3 L1116.6,1694.2 L1101.5,1688.3 L1086.4,1682.3 L1071.3,1676.4 L1056.2,1670.6 L1041.3,1664.9 L1026.6,1659.2 L1012.1,1653.6 L998.0,1648.2 L984.2,1642.8 L970.9,1637.5 L957.8,1632.2 L944.5,1626.9 L931.2,1621.5 L918.0,1616.2 L905.1,1610.9 L892.5,1605.8 L880.4,1600.8 L868.9,1596.1 L858.0,1591.7 L848.0,1587.6 L838.9,1583.9 L830.9,1580.6 L824.0,1577.8 L818.1,1575.5 L813.1,1573.5 L809.0,1571.9 L805.5,1570.6 L802.7,1569.5 L800.3,1568.6 L798.3,1567.8 L796.6,1567.2 L795.1,1566.6 L793.6,1566.0 L792.0,1565.4Z" fill="url(#lg13)" filter="url(#b11)"/><path d="M1303.9,1421.5 L1304.1,1421.8 L1316.1,1414.7 L1315.9,1414.2 L1315.5,1413.7 L1315.2,1413.2 L1303.1,1420.1 L1303.5,1420.8 L1304.3,1422.2 L1305.7,1424.6 L1307.9,1428.3 L1310.9,1433.5 L1314.9,1440.5 L1320.1,1449.6 L1326.5,1460.9 L1333.8,1473.9 L1341.9,1488.4 L1350.7,1504.0 L1359.9,1520.3 L1369.3,1536.9 L1378.8,1553.4 L1388.3,1569.6 L1397.4,1585.1 L1406.2,1599.5 L1414.3,1612.4 L1421.8,1623.8 L1428.8,1634.3 L1435.4,1643.9 L1441.8,1653.0 L1448.2,1661.7 L1454.5,1670.2 L1461.0,1678.6 L1467.8,1687.3 L1475.0,1696.3 L1482.6,1705.9 L1490.9,1716.3 L1500.0,1727.6 L1510.1,1740.3 L1521.4,1754.1 L1533.4,1768.8 L1546.1,1784.1 L1559.2,1799.8 L1572.5,1815.7 L1585.7,1831.4 L1598.6,1846.8 L1611.0,1861.6 L1622.7,1875.5 L1633.5,1888.3 L1643.1,1899.7 L1651.7,1910.1 L1659.9,1919.9 L1667.6,1929.0 L1674.8,1937.5 L1681.5,1945.5 L1687.7,1952.8 L1693.4,1959.5 L1698.6,1965.7 L1703.4,1971.2 L1707.6,1976.2 L1711.3,1980.6 L1714.6,1984.4 L1725.4,1975.6 L1722.4,1971.6 L1718.9,1967.1 L1714.9,1961.9 L1710.5,1956.1 L1705.6,1949.7 L1700.2,1942.7 L1694.3,1935.1 L1687.9,1926.9 L1680.9,1918.1 L1673.5,1908.8 L1665.5,1898.8 L1656.9,1888.3 L1647.4,1876.7 L1636.7,1863.8 L1625.1,1849.8 L1612.7,1835.0 L1599.7,1819.6 L1586.5,1803.8 L1573.3,1788.0 L1560.2,1772.4 L1547.5,1757.1 L1535.4,1742.5 L1524.2,1728.9 L1514.0,1716.4 L1504.9,1705.0 L1496.4,1694.7 L1488.7,1685.2 L1481.5,1676.4 L1474.6,1667.9 L1468.1,1659.7 L1461.7,1651.5 L1455.3,1643.1 L1448.9,1634.4 L1442.2,1625.0 L1435.2,1614.8 L1427.7,1603.6 L1419.6,1591.1 L1410.8,1577.0 L1401.5,1561.7 L1392.0,1545.7 L1382.3,1529.3 L1372.8,1512.9 L1363.4,1496.7 L1354.6,1481.3 L1346.3,1466.9 L1338.9,1453.9 L1332.4,1442.6 L1327.1,1433.5 L1322.9,1426.5 L1319.9,1421.3 L1317.7,1417.6 L1316.3,1415.2 L1315.6,1413.9 L1315.4,1413.5 L1303.4,1420.6 L1303.6,1420.9 L1303.9,1421.5 L1304.2,1422.0 L1316.4,1415.1 L1316.1,1414.5Z" fill="url(#lg14)" filter="url(#b8)"/><path d="M1495.8,1724.2 L1497.6,1726.1 L1499.4,1728.1 L1501.4,1730.4 L1503.7,1732.9 L1506.2,1735.7 L1509.2,1738.9 L1512.8,1742.6 L1516.9,1746.8 L1521.7,1751.6 L1527.3,1757.1 L1533.8,1763.2 L1541.3,1770.2 L1550.3,1778.3 L1560.9,1787.8 L1572.9,1798.4 L1585.9,1809.8 L1599.5,1821.7 L1613.6,1834.1 L1627.7,1846.4 L1641.5,1858.6 L1654.7,1870.3 L1666.9,1881.3 L1677.8,1891.3 L1687.2,1900.1 L1695.2,1907.9 L1702.4,1915.2 L1708.9,1922.1 L1714.8,1928.6 L1720.0,1934.6 L1724.8,1940.1 L1729.0,1945.2 L1732.8,1949.9 L1736.2,1954.2 L1739.3,1958.1 L1742.1,1961.6 L1744.7,1964.6 L1755.3,1955.4 L1752.8,1952.6 L1750.2,1949.3 L1747.1,1945.5 L1743.7,1941.2 L1739.8,1936.4 L1735.5,1931.1 L1730.6,1925.4 L1725.2,1919.2 L1719.2,1912.6 L1712.5,1905.5 L1705.0,1897.9 L1696.8,1889.9 L1687.4,1881.0 L1676.3,1870.9 L1664.0,1859.8 L1650.8,1848.1 L1637.0,1835.8 L1622.9,1823.4 L1608.9,1811.1 L1595.2,1799.1 L1582.2,1787.7 L1570.2,1777.2 L1559.6,1767.8 L1550.7,1759.8 L1543.2,1753.0 L1536.7,1747.0 L1531.1,1741.8 L1526.2,1737.2 L1522.1,1733.3 L1518.5,1729.8 L1515.4,1726.8 L1512.8,1724.2 L1510.4,1721.8 L1508.3,1719.7 L1506.2,1717.7 L1504.2,1715.8Z" fill="url(#lg15)" filter="url(#b8)"/><rect x="1550" y="2060" width="70" height="280" fill="#fff" fill-opacity="0.012" filter="url(#b10)"/></g></g>
<g stroke="#fff" stroke-opacity="0.045" stroke-width="2.6"><line x1="244.0" y1="1354" x2="244.0" y2="2436"/><line x1="333.9" y1="1354" x2="333.9" y2="2436"/><line x1="423.8" y1="1354" x2="423.8" y2="2436"/><line x1="513.7" y1="1354" x2="513.7" y2="2436"/><line x1="603.6" y1="1354" x2="603.6" y2="2436"/><line x1="693.5" y1="1354" x2="693.5" y2="2436"/><line x1="783.4" y1="1354" x2="783.4" y2="2436"/><line x1="873.3" y1="1354" x2="873.3" y2="2436"/><line x1="963.2" y1="1354" x2="963.2" y2="2436"/><line x1="1053.1" y1="1354" x2="1053.1" y2="2436"/><line x1="1143.0" y1="1354" x2="1143.0" y2="2436"/><line x1="1232.9" y1="1354" x2="1232.9" y2="2436"/><line x1="1322.8" y1="1354" x2="1322.8" y2="2436"/><line x1="1412.7" y1="1354" x2="1412.7" y2="2436"/><line x1="1502.6" y1="1354" x2="1502.6" y2="2436"/><line x1="1592.5" y1="1354" x2="1592.5" y2="2436"/><line x1="1682.4" y1="1354" x2="1682.4" y2="2436"/><line x1="1772.3" y1="1354" x2="1772.3" y2="2436"/><line x1="1862.2" y1="1354" x2="1862.2" y2="2436"/><line x1="1952.1" y1="1354" x2="1952.1" y2="2436"/><line x1="2042.0" y1="1354" x2="2042.0" y2="2436"/><line x1="2131.9" y1="1354" x2="2131.9" y2="2436"/><line x1="2221.8" y1="1354" x2="2221.8" y2="2436"/><line x1="2311.7" y1="1354" x2="2311.7" y2="2436"/><line x1="232" y1="1366.0" x2="2296" y2="1366.0"/><line x1="232" y1="1472.3" x2="2296" y2="1472.3"/><line x1="232" y1="1578.6" x2="2296" y2="1578.6"/><line x1="232" y1="1684.9" x2="2296" y2="1684.9"/><line x1="232" y1="1791.2" x2="2296" y2="1791.2"/><line x1="232" y1="1897.5" x2="2296" y2="1897.5"/><line x1="232" y1="2003.8" x2="2296" y2="2003.8"/><line x1="232" y1="2110.1" x2="2296" y2="2110.1"/><line x1="232" y1="2216.4" x2="2296" y2="2216.4"/><line x1="232" y1="2322.7" x2="2296" y2="2322.7"/></g>
<rect x="229" y="1348.6" width="2100" height="2.2" fill="#5a5a5a"/>
<rect x="229" y="2415.5" width="2067" height="12.5" fill="#10106c" filter="url(#b2)"/>
<path d="M964,1356V1478M964,1610V1840M964,1970V2438" stroke="#fff" stroke-opacity="0.5" stroke-width="2"/>
<rect x="226" y="2434" width="2104" height="14.5" fill="url(#axh2)"/>
<rect x="213" y="1348" width="16" height="1100.5" fill="url(#axv2)"/>
<polygon points="219.7,1324 239,1367 228.5,1367 226.5,1350 213,1350 211,1367 199.5,1367" fill="#e3202c"/>
<polygon points="2328.2,2426.1 2360,2443.5 2328.2,2463 2323.9,2454.7 2343.4,2443.9 2323.9,2433.5" fill="#d42a36"/>
<g filter="url(#soft)">
<text x="96" y="76" font-size="46" fill="#262626" textLength="36.0" lengthAdjust="spacingAndGlyphs" >a)</text>
<text x="112" y="121.7" font-size="46" fill="#262626" textLength="73.5" lengthAdjust="spacingAndGlyphs" >160</text>
<text x="111" y="550.4" font-size="46" fill="#262626" textLength="74.0" lengthAdjust="spacingAndGlyphs" >100</text>
<text x="120.6" y="1160.8" font-size="46" fill="#262626" textLength="46.4" lengthAdjust="spacingAndGlyphs" >15</text>
<text x="156.3" y="1213.4" font-size="46" fill="#262626" textLength="77.9" lengthAdjust="spacingAndGlyphs" >-5.5</text>
<text x="1450" y="1210.4" font-size="46" fill="#262626" textLength="38.0" lengthAdjust="spacingAndGlyphs" >-1</text>
<text x="1747" y="1210.4" font-size="46" fill="#262626" textLength="24.7" lengthAdjust="spacingAndGlyphs" >0</text>
<text x="1924.7" y="1210.4" font-size="46" fill="#262626" textLength="21.7" lengthAdjust="spacingAndGlyphs" >2</text>
<text x="2152" y="1260" font-size="46" fill="#262626" textLength="149.0" lengthAdjust="spacingAndGlyphs" >CV [Td]</text>
<text transform="translate(77,871.5) rotate(-90)" x="0" y="0" font-size="47" fill="#262626" textLength="496.5" lengthAdjust="spacingAndGlyphs">Separation voltage [Td]</text>
<text x="128.8" y="1363" font-size="46" fill="#262626" textLength="38.8" lengthAdjust="spacingAndGlyphs" >b)</text>
<text x="128.8" y="1407.7" font-size="46" fill="#262626" textLength="74.1" lengthAdjust="spacingAndGlyphs" >160</text>
<text x="130.5" y="1697" font-size="46" fill="#262626" textLength="73.5" lengthAdjust="spacingAndGlyphs" >100</text>
<text x="128.5" y="2446.5" font-size="46" fill="#262626" textLength="48.2" lengthAdjust="spacingAndGlyphs" >15</text>
<text x="188" y="2513.7" font-size="46" fill="#262626" textLength="77.6" lengthAdjust="spacingAndGlyphs" >-5.5</text>
<text x="1547.6" y="2522.3" font-size="46" fill="#262626" textLength="38.2" lengthAdjust="spacingAndGlyphs" >-1</text>
<text x="1834" y="2522.3" font-size="46" fill="#262626" textLength="23.4" lengthAdjust="spacingAndGlyphs" >0</text>
<text x="2154" y="2511.4" font-size="46" fill="#262626" textLength="20.5" lengthAdjust="spacingAndGlyphs" >1</text>
<text x="1813" y="2582.4" font-size="47" fill="#262626" textLength="569.5" lengthAdjust="spacingAndGlyphs" >Compensation voltage [Td]</text>
<text transform="translate(99.6,2113) rotate(-90)" x="0" y="0" font-size="47" fill="#262626" textLength="493.0" lengthAdjust="spacingAndGlyphs">Separation voltage [Td]</text>
<rect x="2325" y="2498.5" width="9" height="2.5" fill="#999"/>
<text x="1352" y="150" font-size="46" fill="#f4f4f4" textLength="209.0" lengthAdjust="spacingAndGlyphs" >Monomer</text>
<polygon points="1585.6,136.7 1613.5,136.7 1613.5,128.6 1641.3,148.7 1613.5,168.8 1613.5,160.7 1585.6,160.7" fill="none" stroke="#f2f2f2" stroke-width="4.3" stroke-linejoin="miter" stroke-miterlimit="10"/>
<text x="941" y="226" font-size="46" fill="#f4f4f4" textLength="562.0" lengthAdjust="spacingAndGlyphs" >Impurities of Brephedrone</text>
<polygon points="1391.7,255.2 1391.7,278.6 1383.2,278.6 1404.8,300.4 1426.3,278.6 1417.8,278.6 1417.8,255.2" fill="none" stroke="#f2f2f2" stroke-width="4.3" stroke-linejoin="miter" stroke-miterlimit="10"/>
<ellipse cx="1512.8" cy="428" rx="134.7" ry="144" fill="none" stroke="#fbeeee" stroke-width="3.5"/>
<polygon points="1037.4,478.4 1037.4,453.9 1031.1,453.9 1047.0,430.8 1062.9,453.9 1056.6,453.9 1056.6,478.4" fill="none" stroke="#f2f2f2" stroke-width="4.3" stroke-linejoin="miter" stroke-miterlimit="10"/>
<text x="1005" y="546" font-size="44" fill="#f4f4f4" textLength="65.0" lengthAdjust="spacingAndGlyphs" >RIP</text>
<polygon points="1950.0,377.1 1917.8,377.1 1917.8,369.9 1888.0,389.0 1917.8,408.1 1917.8,400.9 1950.0,400.9" fill="none" stroke="#f2f2f2" stroke-width="4.3" stroke-linejoin="miter" stroke-miterlimit="10"/>
<text x="1979" y="412" font-size="46" fill="#f4f4f4" textLength="129.0" lengthAdjust="spacingAndGlyphs" >Dimer</text>
<ellipse cx="1929.4" cy="92.9" rx="33.9" ry="28.1" fill="none" stroke="#fbeeee" stroke-width="3.5"/>
<text x="1982.6" y="105.5" font-size="33" fill="#f4f4f4" textLength="226.4" lengthAdjust="spacingAndGlyphs" >Fragmentation</text>
<text x="2052" y="151" font-size="33" fill="#f4f4f4" textLength="79.0" lengthAdjust="spacingAndGlyphs" >point</text>
<text x="2008" y="197" font-size="33" fill="#f4f4f4" textLength="191.0" lengthAdjust="spacingAndGlyphs" >SV = 150 Td,</text>
<text x="2016" y="243" font-size="33" fill="#f4f4f4" textLength="194.0" lengthAdjust="spacingAndGlyphs" >CV = 2.23 Td</text>
<text x="934" y="1530" font-size="46" fill="#f4f4f4" textLength="283.5" lengthAdjust="spacingAndGlyphs" >Impurities of</text>
<text x="947" y="1594.4" font-size="46" fill="#f4f4f4" textLength="290.0" lengthAdjust="spacingAndGlyphs" >Brephedrone</text>
<polygon points="1276.9,1549.7 1311.2,1549.7 1311.2,1544.2 1343.7,1557.0 1311.2,1569.8 1311.2,1564.3 1276.9,1564.3" fill="none" stroke="#f2f2f2" stroke-width="4.3" stroke-linejoin="miter" stroke-miterlimit="10"/>
<polygon points="1738.1,1494.0 1705.6,1494.0 1705.6,1487.5 1674.4,1502.8 1705.6,1518.2 1705.6,1511.7 1738.1,1511.7" fill="none" stroke="#f2f2f2" stroke-width="4.3" stroke-linejoin="miter" stroke-miterlimit="10"/>
<text x="1772" y="1517.5" font-size="46" fill="#f4f4f4" textLength="224.0" lengthAdjust="spacingAndGlyphs" >Monomer</text>
<polygon points="1069.1,1779.8 1069.1,1755.8 1062.3,1755.8 1079.8,1733.0 1097.2,1755.8 1090.4,1755.8 1090.4,1779.8" fill="none" stroke="#f2f2f2" stroke-width="4.3" stroke-linejoin="miter" stroke-miterlimit="10"/>
<text x="1048.7" y="1846" font-size="44" fill="#f4f4f4" textLength="74.3" lengthAdjust="spacingAndGlyphs" >RIN</text>
<text x="804" y="1891.8" font-size="44" fill="#f4f4f4" textLength="493.6" lengthAdjust="spacingAndGlyphs" >Reactant Ion Negative</text>
<ellipse cx="1784.8" cy="1712" rx="51" ry="33.3" fill="none" stroke="#f4f4ff" stroke-width="3.5"/>
<polygon points="1720.2,1708.0 1698.2,1708.0 1698.2,1703.9 1679.0,1713.5 1698.2,1723.1 1698.2,1719.0 1720.2,1719.0" fill="none" stroke="#f2f2f2" stroke-width="3.6" stroke-linejoin="miter" stroke-miterlimit="10"/>
<text x="1854" y="1656" font-size="34" fill="#f4f4f4" textLength="445.0" lengthAdjust="spacingAndGlyphs" >Fragmentation point from</text>
<text x="1908" y="1704" font-size="34" fill="#f4f4f4" textLength="337.0" lengthAdjust="spacingAndGlyphs" >Dimer to Monomer</text>
<text x="1851" y="1753.5" font-size="34" fill="#f4f4f4" textLength="428.0" lengthAdjust="spacingAndGlyphs" >SV = 94 Td, CV = -0.13 Td</text>
<polygon points="1957.8,1847.0 1927.4,1847.0 1927.4,1840.6 1898.6,1856.0 1927.4,1871.4 1927.4,1865.0 1957.8,1865.0" fill="none" stroke="#f2f2f2" stroke-width="4.3" stroke-linejoin="miter" stroke-miterlimit="10"/>
<text x="1994.5" y="1872" font-size="46" fill="#f4f4f4" textLength="136.5" lengthAdjust="spacingAndGlyphs" >Dimer</text>
</g>
</svg>
</body></html>
